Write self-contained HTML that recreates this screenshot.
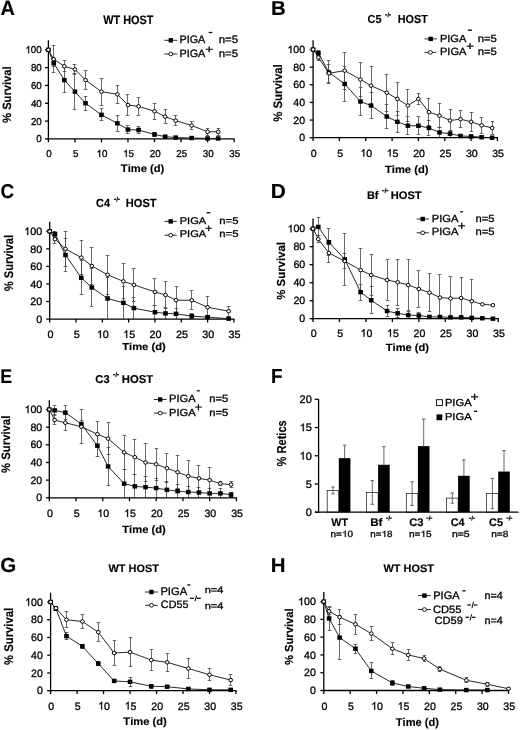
<!DOCTYPE html>
<html><head><meta charset="utf-8"><style>
html,body{margin:0;padding:0;background:#fff;width:520px;height:730px;overflow:hidden}
svg{display:block;font-family:"Liberation Sans",sans-serif;text-rendering:geometricPrecision;filter:blur(0.3px)}
</style></head><body>
<svg width="520" height="730" viewBox="0 0 520 730" font-family="Liberation Sans, sans-serif" style="font-kerning:none">
<rect width="520" height="730" fill="#fff"/>
<text transform="translate(0.50 15.30) scale(0.9711 1)" font-size="20.57" font-weight="bold" fill="#000" stroke="#000" stroke-width="0.15">A</text>
<text transform="translate(271.03 14.70) scale(1.0218 1)" font-size="20.06" font-weight="bold" fill="#000" stroke="#000" stroke-width="0.15">B</text>
<text transform="translate(0.43 198.21) scale(0.9447 1)" font-size="19.92" font-weight="bold" fill="#000" stroke="#000" stroke-width="0.15">C</text>
<text transform="translate(270.80 197.70) scale(1.0330 1)" font-size="20.20" font-weight="bold" fill="#000" stroke="#000" stroke-width="0.15">D</text>
<text transform="translate(0.31 382.80) scale(0.9017 1)" font-size="19.77" font-weight="bold" fill="#000" stroke="#000" stroke-width="0.15">E</text>
<text transform="translate(271.03 382.70) scale(0.9299 1)" font-size="20.35" font-weight="bold" fill="#000" stroke="#000" stroke-width="0.15">F</text>
<text transform="translate(0.36 572.00) scale(1.0128 1)" font-size="20.34" font-weight="bold" fill="#000" stroke="#000" stroke-width="0.15">G</text>
<text transform="translate(270.83 571.90) scale(1.0176 1)" font-size="20.06" font-weight="bold" fill="#000" stroke="#000" stroke-width="0.15">H</text>
<line x1="53.50" y1="45.50" x2="53.50" y2="72.50" stroke="#444" stroke-width="0.80"/>
<line x1="51.70" y1="45.50" x2="55.30" y2="45.50" stroke="#444" stroke-width="0.80"/>
<line x1="51.70" y1="72.50" x2="55.30" y2="72.50" stroke="#444" stroke-width="0.80"/>
<line x1="64.50" y1="60.50" x2="64.50" y2="71.50" stroke="#444" stroke-width="0.80"/>
<line x1="62.70" y1="60.50" x2="66.30" y2="60.50" stroke="#444" stroke-width="0.80"/>
<line x1="62.70" y1="71.50" x2="66.30" y2="71.50" stroke="#444" stroke-width="0.80"/>
<line x1="74.50" y1="64.50" x2="74.50" y2="74.50" stroke="#444" stroke-width="0.80"/>
<line x1="72.70" y1="64.50" x2="76.30" y2="64.50" stroke="#444" stroke-width="0.80"/>
<line x1="72.70" y1="74.50" x2="76.30" y2="74.50" stroke="#444" stroke-width="0.80"/>
<line x1="85.50" y1="70.50" x2="85.50" y2="89.50" stroke="#444" stroke-width="0.80"/>
<line x1="83.70" y1="70.50" x2="87.30" y2="70.50" stroke="#444" stroke-width="0.80"/>
<line x1="83.70" y1="89.50" x2="87.30" y2="89.50" stroke="#444" stroke-width="0.80"/>
<line x1="101.50" y1="78.50" x2="101.50" y2="105.50" stroke="#444" stroke-width="0.80"/>
<line x1="99.70" y1="78.50" x2="103.30" y2="78.50" stroke="#444" stroke-width="0.80"/>
<line x1="99.70" y1="105.50" x2="103.30" y2="105.50" stroke="#444" stroke-width="0.80"/>
<line x1="117.50" y1="85.50" x2="117.50" y2="103.50" stroke="#444" stroke-width="0.80"/>
<line x1="115.70" y1="85.50" x2="119.30" y2="85.50" stroke="#444" stroke-width="0.80"/>
<line x1="115.70" y1="103.50" x2="119.30" y2="103.50" stroke="#444" stroke-width="0.80"/>
<line x1="127.50" y1="94.50" x2="127.50" y2="115.50" stroke="#444" stroke-width="0.80"/>
<line x1="125.70" y1="94.50" x2="129.30" y2="94.50" stroke="#444" stroke-width="0.80"/>
<line x1="125.70" y1="115.50" x2="129.30" y2="115.50" stroke="#444" stroke-width="0.80"/>
<line x1="138.50" y1="97.50" x2="138.50" y2="115.50" stroke="#444" stroke-width="0.80"/>
<line x1="136.70" y1="97.50" x2="140.30" y2="97.50" stroke="#444" stroke-width="0.80"/>
<line x1="136.70" y1="115.50" x2="140.30" y2="115.50" stroke="#444" stroke-width="0.80"/>
<line x1="154.50" y1="103.50" x2="154.50" y2="119.50" stroke="#444" stroke-width="0.80"/>
<line x1="152.70" y1="103.50" x2="156.30" y2="103.50" stroke="#444" stroke-width="0.80"/>
<line x1="152.70" y1="119.50" x2="156.30" y2="119.50" stroke="#444" stroke-width="0.80"/>
<line x1="165.50" y1="109.50" x2="165.50" y2="123.50" stroke="#444" stroke-width="0.80"/>
<line x1="163.70" y1="109.50" x2="167.30" y2="109.50" stroke="#444" stroke-width="0.80"/>
<line x1="163.70" y1="123.50" x2="167.30" y2="123.50" stroke="#444" stroke-width="0.80"/>
<line x1="175.50" y1="115.50" x2="175.50" y2="125.50" stroke="#444" stroke-width="0.80"/>
<line x1="173.70" y1="115.50" x2="177.30" y2="115.50" stroke="#444" stroke-width="0.80"/>
<line x1="173.70" y1="125.50" x2="177.30" y2="125.50" stroke="#444" stroke-width="0.80"/>
<line x1="191.50" y1="121.50" x2="191.50" y2="129.50" stroke="#444" stroke-width="0.80"/>
<line x1="189.70" y1="121.50" x2="193.30" y2="121.50" stroke="#444" stroke-width="0.80"/>
<line x1="189.70" y1="129.50" x2="193.30" y2="129.50" stroke="#444" stroke-width="0.80"/>
<line x1="207.50" y1="128.50" x2="207.50" y2="135.50" stroke="#444" stroke-width="0.80"/>
<line x1="205.70" y1="128.50" x2="209.30" y2="128.50" stroke="#444" stroke-width="0.80"/>
<line x1="205.70" y1="135.50" x2="209.30" y2="135.50" stroke="#444" stroke-width="0.80"/>
<line x1="218.50" y1="128.50" x2="218.50" y2="135.50" stroke="#444" stroke-width="0.80"/>
<line x1="216.70" y1="128.50" x2="220.30" y2="128.50" stroke="#444" stroke-width="0.80"/>
<line x1="216.70" y1="135.50" x2="220.30" y2="135.50" stroke="#444" stroke-width="0.80"/>
<line x1="53.50" y1="60.50" x2="53.50" y2="66.50" stroke="#444" stroke-width="0.80"/>
<line x1="51.70" y1="60.50" x2="55.30" y2="60.50" stroke="#444" stroke-width="0.80"/>
<line x1="51.70" y1="66.50" x2="55.30" y2="66.50" stroke="#444" stroke-width="0.80"/>
<line x1="64.50" y1="67.50" x2="64.50" y2="92.50" stroke="#444" stroke-width="0.80"/>
<line x1="62.70" y1="67.50" x2="66.30" y2="67.50" stroke="#444" stroke-width="0.80"/>
<line x1="62.70" y1="92.50" x2="66.30" y2="92.50" stroke="#444" stroke-width="0.80"/>
<line x1="74.50" y1="73.50" x2="74.50" y2="109.50" stroke="#444" stroke-width="0.80"/>
<line x1="72.70" y1="73.50" x2="76.30" y2="73.50" stroke="#444" stroke-width="0.80"/>
<line x1="72.70" y1="109.50" x2="76.30" y2="109.50" stroke="#444" stroke-width="0.80"/>
<line x1="85.50" y1="96.50" x2="85.50" y2="110.50" stroke="#444" stroke-width="0.80"/>
<line x1="83.70" y1="96.50" x2="87.30" y2="96.50" stroke="#444" stroke-width="0.80"/>
<line x1="83.70" y1="110.50" x2="87.30" y2="110.50" stroke="#444" stroke-width="0.80"/>
<line x1="101.50" y1="108.50" x2="101.50" y2="120.50" stroke="#444" stroke-width="0.80"/>
<line x1="99.70" y1="108.50" x2="103.30" y2="108.50" stroke="#444" stroke-width="0.80"/>
<line x1="99.70" y1="120.50" x2="103.30" y2="120.50" stroke="#444" stroke-width="0.80"/>
<line x1="117.50" y1="115.50" x2="117.50" y2="131.50" stroke="#444" stroke-width="0.80"/>
<line x1="115.70" y1="115.50" x2="119.30" y2="115.50" stroke="#444" stroke-width="0.80"/>
<line x1="115.70" y1="131.50" x2="119.30" y2="131.50" stroke="#444" stroke-width="0.80"/>
<line x1="127.50" y1="125.50" x2="127.50" y2="133.50" stroke="#444" stroke-width="0.80"/>
<line x1="125.70" y1="125.50" x2="129.30" y2="125.50" stroke="#444" stroke-width="0.80"/>
<line x1="125.70" y1="133.50" x2="129.30" y2="133.50" stroke="#444" stroke-width="0.80"/>
<line x1="138.50" y1="126.50" x2="138.50" y2="133.50" stroke="#444" stroke-width="0.80"/>
<line x1="136.70" y1="126.50" x2="140.30" y2="126.50" stroke="#444" stroke-width="0.80"/>
<line x1="136.70" y1="133.50" x2="140.30" y2="133.50" stroke="#444" stroke-width="0.80"/>
<line x1="154.50" y1="132.50" x2="154.50" y2="136.50" stroke="#444" stroke-width="0.80"/>
<line x1="152.70" y1="132.50" x2="156.30" y2="132.50" stroke="#444" stroke-width="0.80"/>
<line x1="152.70" y1="136.50" x2="156.30" y2="136.50" stroke="#444" stroke-width="0.80"/>
<line x1="165.50" y1="135.50" x2="165.50" y2="137.50" stroke="#444" stroke-width="0.80"/>
<line x1="163.70" y1="135.50" x2="167.30" y2="135.50" stroke="#444" stroke-width="0.80"/>
<line x1="163.70" y1="137.50" x2="167.30" y2="137.50" stroke="#444" stroke-width="0.80"/>
<line x1="175.50" y1="136.50" x2="175.50" y2="138.50" stroke="#444" stroke-width="0.80"/>
<line x1="173.70" y1="136.50" x2="177.30" y2="136.50" stroke="#444" stroke-width="0.80"/>
<line x1="173.70" y1="138.50" x2="177.30" y2="138.50" stroke="#444" stroke-width="0.80"/>
<line x1="48.40" y1="40.20" x2="48.40" y2="139.50" stroke="#000" stroke-width="1.30"/>
<line x1="47.80" y1="138.90" x2="234.70" y2="138.90" stroke="#000" stroke-width="1.30"/>
<line x1="45.00" y1="138.90" x2="48.40" y2="138.90" stroke="#000" stroke-width="1.30"/>
<line x1="45.00" y1="121.08" x2="48.40" y2="121.08" stroke="#000" stroke-width="1.30"/>
<line x1="45.00" y1="103.26" x2="48.40" y2="103.26" stroke="#000" stroke-width="1.30"/>
<line x1="45.00" y1="85.44" x2="48.40" y2="85.44" stroke="#000" stroke-width="1.30"/>
<line x1="45.00" y1="67.62" x2="48.40" y2="67.62" stroke="#000" stroke-width="1.30"/>
<line x1="45.00" y1="49.80" x2="48.40" y2="49.80" stroke="#000" stroke-width="1.30"/>
<line x1="48.40" y1="138.90" x2="48.40" y2="142.30" stroke="#000" stroke-width="1.30"/>
<line x1="74.93" y1="138.90" x2="74.93" y2="142.30" stroke="#000" stroke-width="1.30"/>
<line x1="101.46" y1="138.90" x2="101.46" y2="142.30" stroke="#000" stroke-width="1.30"/>
<line x1="127.99" y1="138.90" x2="127.99" y2="142.30" stroke="#000" stroke-width="1.30"/>
<line x1="154.51" y1="138.90" x2="154.51" y2="142.30" stroke="#000" stroke-width="1.30"/>
<line x1="181.04" y1="138.90" x2="181.04" y2="142.30" stroke="#000" stroke-width="1.30"/>
<line x1="207.57" y1="138.90" x2="207.57" y2="142.30" stroke="#000" stroke-width="1.30"/>
<line x1="234.10" y1="138.90" x2="234.10" y2="142.30" stroke="#000" stroke-width="1.30"/>
<polyline points="48.40,49.80 53.71,63.16 64.32,80.09 74.93,91.68 85.54,103.26 101.46,114.84 117.37,123.31 127.99,129.54 138.60,129.99 154.51,134.44 165.13,136.67 175.74,137.56 191.65,138.01 207.57,138.45 218.18,138.45" fill="none" stroke="#111" stroke-width="0.9"/>
<polyline points="48.40,49.80 53.71,59.16 64.32,66.28 74.93,69.40 85.54,80.09 101.46,91.68 117.37,94.35 127.99,105.04 138.60,106.38 154.51,111.28 165.13,116.62 175.74,120.63 191.65,125.53 207.57,131.77 218.18,131.77" fill="none" stroke="#111" stroke-width="0.9"/>
<rect x="46.10" y="47.60" width="4.6" height="4.4" fill="#000"/>
<rect x="51.41" y="60.96" width="4.6" height="4.4" fill="#000"/>
<rect x="62.02" y="77.89" width="4.6" height="4.4" fill="#000"/>
<rect x="72.63" y="89.48" width="4.6" height="4.4" fill="#000"/>
<rect x="83.24" y="101.06" width="4.6" height="4.4" fill="#000"/>
<rect x="99.16" y="112.64" width="4.6" height="4.4" fill="#000"/>
<rect x="115.07" y="121.11" width="4.6" height="4.4" fill="#000"/>
<rect x="125.69" y="127.34" width="4.6" height="4.4" fill="#000"/>
<rect x="136.30" y="127.79" width="4.6" height="4.4" fill="#000"/>
<rect x="152.21" y="132.25" width="4.6" height="4.4" fill="#000"/>
<rect x="162.83" y="134.47" width="4.6" height="4.4" fill="#000"/>
<rect x="173.44" y="135.36" width="4.6" height="4.4" fill="#000"/>
<rect x="189.35" y="135.81" width="4.6" height="4.4" fill="#000"/>
<rect x="205.27" y="136.25" width="4.6" height="4.4" fill="#000"/>
<rect x="215.88" y="136.25" width="4.6" height="4.4" fill="#000"/>
<ellipse cx="48.40" cy="49.80" rx="1.85" ry="1.75" fill="#fff" stroke="#000" stroke-width="1.0"/>
<ellipse cx="53.71" cy="59.16" rx="1.85" ry="1.75" fill="#fff" stroke="#000" stroke-width="1.0"/>
<ellipse cx="64.32" cy="66.28" rx="1.85" ry="1.75" fill="#fff" stroke="#000" stroke-width="1.0"/>
<ellipse cx="74.93" cy="69.40" rx="1.85" ry="1.75" fill="#fff" stroke="#000" stroke-width="1.0"/>
<ellipse cx="85.54" cy="80.09" rx="1.85" ry="1.75" fill="#fff" stroke="#000" stroke-width="1.0"/>
<ellipse cx="101.46" cy="91.68" rx="1.85" ry="1.75" fill="#fff" stroke="#000" stroke-width="1.0"/>
<ellipse cx="117.37" cy="94.35" rx="1.85" ry="1.75" fill="#fff" stroke="#000" stroke-width="1.0"/>
<ellipse cx="127.99" cy="105.04" rx="1.85" ry="1.75" fill="#fff" stroke="#000" stroke-width="1.0"/>
<ellipse cx="138.60" cy="106.38" rx="1.85" ry="1.75" fill="#fff" stroke="#000" stroke-width="1.0"/>
<ellipse cx="154.51" cy="111.28" rx="1.85" ry="1.75" fill="#fff" stroke="#000" stroke-width="1.0"/>
<ellipse cx="165.13" cy="116.62" rx="1.85" ry="1.75" fill="#fff" stroke="#000" stroke-width="1.0"/>
<ellipse cx="175.74" cy="120.63" rx="1.85" ry="1.75" fill="#fff" stroke="#000" stroke-width="1.0"/>
<ellipse cx="191.65" cy="125.53" rx="1.85" ry="1.75" fill="#fff" stroke="#000" stroke-width="1.0"/>
<ellipse cx="207.57" cy="131.77" rx="1.85" ry="1.75" fill="#fff" stroke="#000" stroke-width="1.0"/>
<ellipse cx="218.18" cy="131.77" rx="1.85" ry="1.75" fill="#fff" stroke="#000" stroke-width="1.0"/>
<text transform="translate(36.33 142.34) scale(0.9800 1)" font-size="10.00" font-weight="normal" fill="#000" stroke="#000" stroke-width="0.30">0</text>
<text transform="translate(30.88 124.52) scale(0.9800 1)" font-size="10.00" font-weight="normal" fill="#000" stroke="#000" stroke-width="0.30">20</text>
<text transform="translate(30.88 106.70) scale(0.9800 1)" font-size="10.00" font-weight="normal" fill="#000" stroke="#000" stroke-width="0.30">40</text>
<text transform="translate(30.88 88.88) scale(0.9800 1)" font-size="10.00" font-weight="normal" fill="#000" stroke="#000" stroke-width="0.30">60</text>
<text transform="translate(30.88 71.06) scale(0.9800 1)" font-size="10.00" font-weight="normal" fill="#000" stroke="#000" stroke-width="0.30">80</text>
<g transform="translate(25.43 53.24) scale(0.9800 1)" font-size="10.00" font-weight="normal" fill="#000" stroke="#000" stroke-width="0.30">
<path vector-effect="non-scaling-stroke" transform="translate(0.000 0) scale(0.004883 -0.004883)" d="M763 0L583 0L583 1147C540 1106 483 1065 413 1024C343 983 280 952 223 931L223 1105C323 1152 410 1210 485 1277C560 1344 613 1407 644 1466L763 1466Z"/>
<text x="5.562">00</text>
</g>
<text transform="translate(46.37 157.00) scale(0.9800 1)" font-size="10.00" font-weight="normal" fill="#000" stroke="#000" stroke-width="0.30">0</text>
<text transform="translate(72.91 157.00) scale(0.9800 1)" font-size="10.00" font-weight="normal" fill="#000" stroke="#000" stroke-width="0.30">5</text>
<g transform="translate(96.53 157.00) scale(0.9800 1)" font-size="10.00" font-weight="normal" fill="#000" stroke="#000" stroke-width="0.30">
<path vector-effect="non-scaling-stroke" transform="translate(0.000 0) scale(0.004883 -0.004883)" d="M763 0L583 0L583 1147C540 1106 483 1065 413 1024C343 983 280 952 223 931L223 1105C323 1152 410 1210 485 1277C560 1344 613 1407 644 1466L763 1466Z"/>
<text x="5.562">0</text>
</g>
<g transform="translate(123.07 157.00) scale(0.9800 1)" font-size="10.00" font-weight="normal" fill="#000" stroke="#000" stroke-width="0.30">
<path vector-effect="non-scaling-stroke" transform="translate(0.000 0) scale(0.004883 -0.004883)" d="M763 0L583 0L583 1147C540 1106 483 1065 413 1024C343 983 280 952 223 931L223 1105C323 1152 410 1210 485 1277C560 1344 613 1407 644 1466L763 1466Z"/>
<text x="5.562">5</text>
</g>
<text transform="translate(149.71 157.00) scale(0.9800 1)" font-size="10.00" font-weight="normal" fill="#000" stroke="#000" stroke-width="0.30">20</text>
<text transform="translate(176.25 157.00) scale(0.9800 1)" font-size="10.00" font-weight="normal" fill="#000" stroke="#000" stroke-width="0.30">25</text>
<text transform="translate(202.83 157.00) scale(0.9800 1)" font-size="10.00" font-weight="normal" fill="#000" stroke="#000" stroke-width="0.30">30</text>
<text transform="translate(229.37 157.00) scale(0.9800 1)" font-size="10.00" font-weight="normal" fill="#000" stroke="#000" stroke-width="0.30">35</text>
<text transform="translate(103.19 23.60) scale(0.8941 1)" font-size="12.21" font-weight="bold" fill="#000" stroke="#000" stroke-width="0.15">WT HOST</text>
<text transform="translate(11.20 122.88) rotate(-90) scale(0.9384 1)" font-size="11.92" font-weight="bold" stroke="#000" stroke-width="0.15">% Survival</text>
<text transform="translate(120.87 171.80) scale(1.0396 1)" font-size="10.76" font-weight="bold" fill="#000" stroke="#000" stroke-width="0.15">Time (d)</text>
<line x1="164.40" y1="40.30" x2="177.20" y2="40.30" stroke="#111" stroke-width="0.90"/>
<rect x="168.60" y="38.10" width="4.4" height="4.4" fill="#000"/>
<line x1="164.40" y1="54.00" x2="177.20" y2="54.00" stroke="#111" stroke-width="0.90"/>
<ellipse cx="170.80" cy="54.00" rx="2.0" ry="1.8" fill="#fff" stroke="#000" stroke-width="0.9"/>
<text transform="translate(179.41 43.30) scale(1.0081 1)" font-size="10.76" font-weight="normal" fill="#000" stroke="#000" stroke-width="0.30">PIGA</text>
<text transform="translate(179.41 56.60) scale(1.0219 1)" font-size="10.61" font-weight="normal" fill="#000" stroke="#000" stroke-width="0.30">PIGA</text>
<line x1="208.70" y1="32.50" x2="212.30" y2="32.50" stroke="#000" stroke-width="1.30"/>
<text transform="translate(205.13 52.97) scale(1.2495 1)" font-size="11.04" font-weight="normal" fill="#000" stroke="#000" stroke-width="0.30">+</text>
<text transform="translate(218.64 43.30) scale(1.0656 1)" font-size="10.76" font-weight="normal" fill="#000" stroke="#000" stroke-width="0.30">n=5</text>
<text transform="translate(218.64 56.60) scale(1.0802 1)" font-size="10.61" font-weight="normal" fill="#000" stroke="#000" stroke-width="0.30">n=5</text>
<line x1="318.50" y1="53.50" x2="318.50" y2="60.50" stroke="#444" stroke-width="0.80"/>
<line x1="316.70" y1="53.50" x2="320.30" y2="53.50" stroke="#444" stroke-width="0.80"/>
<line x1="316.70" y1="60.50" x2="320.30" y2="60.50" stroke="#444" stroke-width="0.80"/>
<line x1="328.50" y1="64.50" x2="328.50" y2="82.50" stroke="#444" stroke-width="0.80"/>
<line x1="326.70" y1="64.50" x2="330.30" y2="64.50" stroke="#444" stroke-width="0.80"/>
<line x1="326.70" y1="82.50" x2="330.30" y2="82.50" stroke="#444" stroke-width="0.80"/>
<line x1="344.50" y1="52.50" x2="344.50" y2="89.50" stroke="#444" stroke-width="0.80"/>
<line x1="342.70" y1="52.50" x2="346.30" y2="52.50" stroke="#444" stroke-width="0.80"/>
<line x1="342.70" y1="89.50" x2="346.30" y2="89.50" stroke="#444" stroke-width="0.80"/>
<line x1="360.50" y1="62.50" x2="360.50" y2="96.50" stroke="#444" stroke-width="0.80"/>
<line x1="358.70" y1="62.50" x2="362.30" y2="62.50" stroke="#444" stroke-width="0.80"/>
<line x1="358.70" y1="96.50" x2="362.30" y2="96.50" stroke="#444" stroke-width="0.80"/>
<line x1="371.50" y1="66.50" x2="371.50" y2="105.50" stroke="#444" stroke-width="0.80"/>
<line x1="369.70" y1="66.50" x2="373.30" y2="66.50" stroke="#444" stroke-width="0.80"/>
<line x1="369.70" y1="105.50" x2="373.30" y2="105.50" stroke="#444" stroke-width="0.80"/>
<line x1="386.50" y1="74.50" x2="386.50" y2="111.50" stroke="#444" stroke-width="0.80"/>
<line x1="384.70" y1="74.50" x2="388.30" y2="74.50" stroke="#444" stroke-width="0.80"/>
<line x1="384.70" y1="111.50" x2="388.30" y2="111.50" stroke="#444" stroke-width="0.80"/>
<line x1="397.50" y1="82.50" x2="397.50" y2="115.50" stroke="#444" stroke-width="0.80"/>
<line x1="395.70" y1="82.50" x2="399.30" y2="82.50" stroke="#444" stroke-width="0.80"/>
<line x1="395.70" y1="115.50" x2="399.30" y2="115.50" stroke="#444" stroke-width="0.80"/>
<line x1="407.50" y1="89.50" x2="407.50" y2="121.50" stroke="#444" stroke-width="0.80"/>
<line x1="405.70" y1="89.50" x2="409.30" y2="89.50" stroke="#444" stroke-width="0.80"/>
<line x1="405.70" y1="121.50" x2="409.30" y2="121.50" stroke="#444" stroke-width="0.80"/>
<line x1="418.50" y1="93.50" x2="418.50" y2="104.50" stroke="#444" stroke-width="0.80"/>
<line x1="416.70" y1="93.50" x2="420.30" y2="93.50" stroke="#444" stroke-width="0.80"/>
<line x1="416.70" y1="104.50" x2="420.30" y2="104.50" stroke="#444" stroke-width="0.80"/>
<line x1="428.50" y1="98.50" x2="428.50" y2="125.50" stroke="#444" stroke-width="0.80"/>
<line x1="426.70" y1="98.50" x2="430.30" y2="98.50" stroke="#444" stroke-width="0.80"/>
<line x1="426.70" y1="125.50" x2="430.30" y2="125.50" stroke="#444" stroke-width="0.80"/>
<line x1="439.50" y1="103.50" x2="439.50" y2="127.50" stroke="#444" stroke-width="0.80"/>
<line x1="437.70" y1="103.50" x2="441.30" y2="103.50" stroke="#444" stroke-width="0.80"/>
<line x1="437.70" y1="127.50" x2="441.30" y2="127.50" stroke="#444" stroke-width="0.80"/>
<line x1="450.50" y1="109.50" x2="450.50" y2="131.50" stroke="#444" stroke-width="0.80"/>
<line x1="448.70" y1="109.50" x2="452.30" y2="109.50" stroke="#444" stroke-width="0.80"/>
<line x1="448.70" y1="131.50" x2="452.30" y2="131.50" stroke="#444" stroke-width="0.80"/>
<line x1="460.50" y1="110.50" x2="460.50" y2="127.50" stroke="#444" stroke-width="0.80"/>
<line x1="458.70" y1="110.50" x2="462.30" y2="110.50" stroke="#444" stroke-width="0.80"/>
<line x1="458.70" y1="127.50" x2="462.30" y2="127.50" stroke="#444" stroke-width="0.80"/>
<line x1="471.50" y1="112.50" x2="471.50" y2="131.50" stroke="#444" stroke-width="0.80"/>
<line x1="469.70" y1="112.50" x2="473.30" y2="112.50" stroke="#444" stroke-width="0.80"/>
<line x1="469.70" y1="131.50" x2="473.30" y2="131.50" stroke="#444" stroke-width="0.80"/>
<line x1="481.50" y1="117.50" x2="481.50" y2="133.50" stroke="#444" stroke-width="0.80"/>
<line x1="479.70" y1="117.50" x2="483.30" y2="117.50" stroke="#444" stroke-width="0.80"/>
<line x1="479.70" y1="133.50" x2="483.30" y2="133.50" stroke="#444" stroke-width="0.80"/>
<line x1="492.50" y1="121.50" x2="492.50" y2="134.50" stroke="#444" stroke-width="0.80"/>
<line x1="490.70" y1="121.50" x2="494.30" y2="121.50" stroke="#444" stroke-width="0.80"/>
<line x1="490.70" y1="134.50" x2="494.30" y2="134.50" stroke="#444" stroke-width="0.80"/>
<line x1="318.50" y1="50.50" x2="318.50" y2="55.50" stroke="#444" stroke-width="0.80"/>
<line x1="316.70" y1="50.50" x2="320.30" y2="50.50" stroke="#444" stroke-width="0.80"/>
<line x1="316.70" y1="55.50" x2="320.30" y2="55.50" stroke="#444" stroke-width="0.80"/>
<line x1="328.50" y1="60.50" x2="328.50" y2="83.50" stroke="#444" stroke-width="0.80"/>
<line x1="326.70" y1="60.50" x2="330.30" y2="60.50" stroke="#444" stroke-width="0.80"/>
<line x1="326.70" y1="83.50" x2="330.30" y2="83.50" stroke="#444" stroke-width="0.80"/>
<line x1="344.50" y1="66.50" x2="344.50" y2="101.50" stroke="#444" stroke-width="0.80"/>
<line x1="342.70" y1="66.50" x2="346.30" y2="66.50" stroke="#444" stroke-width="0.80"/>
<line x1="342.70" y1="101.50" x2="346.30" y2="101.50" stroke="#444" stroke-width="0.80"/>
<line x1="360.50" y1="87.50" x2="360.50" y2="115.50" stroke="#444" stroke-width="0.80"/>
<line x1="358.70" y1="87.50" x2="362.30" y2="87.50" stroke="#444" stroke-width="0.80"/>
<line x1="358.70" y1="115.50" x2="362.30" y2="115.50" stroke="#444" stroke-width="0.80"/>
<line x1="371.50" y1="92.50" x2="371.50" y2="118.50" stroke="#444" stroke-width="0.80"/>
<line x1="369.70" y1="92.50" x2="373.30" y2="92.50" stroke="#444" stroke-width="0.80"/>
<line x1="369.70" y1="118.50" x2="373.30" y2="118.50" stroke="#444" stroke-width="0.80"/>
<line x1="386.50" y1="104.50" x2="386.50" y2="128.50" stroke="#444" stroke-width="0.80"/>
<line x1="384.70" y1="104.50" x2="388.30" y2="104.50" stroke="#444" stroke-width="0.80"/>
<line x1="384.70" y1="128.50" x2="388.30" y2="128.50" stroke="#444" stroke-width="0.80"/>
<line x1="397.50" y1="111.50" x2="397.50" y2="132.50" stroke="#444" stroke-width="0.80"/>
<line x1="395.70" y1="111.50" x2="399.30" y2="111.50" stroke="#444" stroke-width="0.80"/>
<line x1="395.70" y1="132.50" x2="399.30" y2="132.50" stroke="#444" stroke-width="0.80"/>
<line x1="407.50" y1="116.50" x2="407.50" y2="134.50" stroke="#444" stroke-width="0.80"/>
<line x1="405.70" y1="116.50" x2="409.30" y2="116.50" stroke="#444" stroke-width="0.80"/>
<line x1="405.70" y1="134.50" x2="409.30" y2="134.50" stroke="#444" stroke-width="0.80"/>
<line x1="418.50" y1="116.50" x2="418.50" y2="134.50" stroke="#444" stroke-width="0.80"/>
<line x1="416.70" y1="116.50" x2="420.30" y2="116.50" stroke="#444" stroke-width="0.80"/>
<line x1="416.70" y1="134.50" x2="420.30" y2="134.50" stroke="#444" stroke-width="0.80"/>
<line x1="428.50" y1="120.50" x2="428.50" y2="135.50" stroke="#444" stroke-width="0.80"/>
<line x1="426.70" y1="120.50" x2="430.30" y2="120.50" stroke="#444" stroke-width="0.80"/>
<line x1="426.70" y1="135.50" x2="430.30" y2="135.50" stroke="#444" stroke-width="0.80"/>
<line x1="439.50" y1="127.50" x2="439.50" y2="137.70" stroke="#444" stroke-width="0.80"/>
<line x1="437.70" y1="127.50" x2="441.30" y2="127.50" stroke="#444" stroke-width="0.80"/>
<line x1="450.50" y1="130.50" x2="450.50" y2="137.50" stroke="#444" stroke-width="0.80"/>
<line x1="448.70" y1="130.50" x2="452.30" y2="130.50" stroke="#444" stroke-width="0.80"/>
<line x1="448.70" y1="137.50" x2="452.30" y2="137.50" stroke="#444" stroke-width="0.80"/>
<line x1="460.50" y1="134.50" x2="460.50" y2="137.50" stroke="#444" stroke-width="0.80"/>
<line x1="458.70" y1="134.50" x2="462.30" y2="134.50" stroke="#444" stroke-width="0.80"/>
<line x1="458.70" y1="137.50" x2="462.30" y2="137.50" stroke="#444" stroke-width="0.80"/>
<line x1="471.50" y1="135.50" x2="471.50" y2="137.50" stroke="#444" stroke-width="0.80"/>
<line x1="469.70" y1="135.50" x2="473.30" y2="135.50" stroke="#444" stroke-width="0.80"/>
<line x1="469.70" y1="137.50" x2="473.30" y2="137.50" stroke="#444" stroke-width="0.80"/>
<line x1="481.50" y1="136.50" x2="481.50" y2="137.70" stroke="#444" stroke-width="0.80"/>
<line x1="479.70" y1="136.50" x2="483.30" y2="136.50" stroke="#444" stroke-width="0.80"/>
<line x1="313.10" y1="40.20" x2="313.10" y2="138.30" stroke="#000" stroke-width="1.30"/>
<line x1="312.50" y1="137.70" x2="498.00" y2="137.70" stroke="#000" stroke-width="1.30"/>
<line x1="309.70" y1="137.70" x2="313.10" y2="137.70" stroke="#000" stroke-width="1.30"/>
<line x1="309.70" y1="120.06" x2="313.10" y2="120.06" stroke="#000" stroke-width="1.30"/>
<line x1="309.70" y1="102.42" x2="313.10" y2="102.42" stroke="#000" stroke-width="1.30"/>
<line x1="309.70" y1="84.78" x2="313.10" y2="84.78" stroke="#000" stroke-width="1.30"/>
<line x1="309.70" y1="67.14" x2="313.10" y2="67.14" stroke="#000" stroke-width="1.30"/>
<line x1="309.70" y1="49.50" x2="313.10" y2="49.50" stroke="#000" stroke-width="1.30"/>
<line x1="313.10" y1="137.70" x2="313.10" y2="141.10" stroke="#000" stroke-width="1.30"/>
<line x1="339.43" y1="137.70" x2="339.43" y2="141.10" stroke="#000" stroke-width="1.30"/>
<line x1="365.76" y1="137.70" x2="365.76" y2="141.10" stroke="#000" stroke-width="1.30"/>
<line x1="392.09" y1="137.70" x2="392.09" y2="141.10" stroke="#000" stroke-width="1.30"/>
<line x1="418.41" y1="137.70" x2="418.41" y2="141.10" stroke="#000" stroke-width="1.30"/>
<line x1="444.74" y1="137.70" x2="444.74" y2="141.10" stroke="#000" stroke-width="1.30"/>
<line x1="471.07" y1="137.70" x2="471.07" y2="141.10" stroke="#000" stroke-width="1.30"/>
<line x1="497.40" y1="137.70" x2="497.40" y2="141.10" stroke="#000" stroke-width="1.30"/>
<polyline points="313.10,49.50 318.37,53.03 328.90,72.43 344.69,83.90 360.49,101.54 371.02,105.51 386.82,116.53 397.35,121.82 407.88,125.70 418.41,125.70 428.95,128.00 439.48,132.41 450.01,133.73 460.54,135.94 471.07,136.38 481.60,137.26 492.13,137.70" fill="none" stroke="#111" stroke-width="0.9"/>
<polyline points="313.10,49.50 318.37,57.44 328.90,73.31 344.69,70.67 360.49,79.49 371.02,85.66 386.82,92.72 397.35,98.89 407.88,105.51 418.41,98.89 428.95,112.12 439.48,115.65 450.01,120.50 460.54,119.18 471.07,121.82 481.60,125.35 492.13,128.00" fill="none" stroke="#111" stroke-width="0.9"/>
<rect x="310.80" y="47.30" width="4.6" height="4.4" fill="#000"/>
<rect x="316.07" y="50.83" width="4.6" height="4.4" fill="#000"/>
<rect x="326.60" y="70.23" width="4.6" height="4.4" fill="#000"/>
<rect x="342.39" y="81.70" width="4.6" height="4.4" fill="#000"/>
<rect x="358.19" y="99.34" width="4.6" height="4.4" fill="#000"/>
<rect x="368.72" y="103.31" width="4.6" height="4.4" fill="#000"/>
<rect x="384.52" y="114.33" width="4.6" height="4.4" fill="#000"/>
<rect x="395.05" y="119.62" width="4.6" height="4.4" fill="#000"/>
<rect x="405.58" y="123.50" width="4.6" height="4.4" fill="#000"/>
<rect x="416.11" y="123.50" width="4.6" height="4.4" fill="#000"/>
<rect x="426.65" y="125.80" width="4.6" height="4.4" fill="#000"/>
<rect x="437.18" y="130.21" width="4.6" height="4.4" fill="#000"/>
<rect x="447.71" y="131.53" width="4.6" height="4.4" fill="#000"/>
<rect x="458.24" y="133.74" width="4.6" height="4.4" fill="#000"/>
<rect x="468.77" y="134.18" width="4.6" height="4.4" fill="#000"/>
<rect x="479.30" y="135.06" width="4.6" height="4.4" fill="#000"/>
<rect x="489.83" y="135.50" width="4.6" height="4.4" fill="#000"/>
<ellipse cx="313.10" cy="49.50" rx="1.85" ry="1.75" fill="#fff" stroke="#000" stroke-width="1.0"/>
<ellipse cx="318.37" cy="57.44" rx="1.85" ry="1.75" fill="#fff" stroke="#000" stroke-width="1.0"/>
<ellipse cx="328.90" cy="73.31" rx="1.85" ry="1.75" fill="#fff" stroke="#000" stroke-width="1.0"/>
<ellipse cx="344.69" cy="70.67" rx="1.85" ry="1.75" fill="#fff" stroke="#000" stroke-width="1.0"/>
<ellipse cx="360.49" cy="79.49" rx="1.85" ry="1.75" fill="#fff" stroke="#000" stroke-width="1.0"/>
<ellipse cx="371.02" cy="85.66" rx="1.85" ry="1.75" fill="#fff" stroke="#000" stroke-width="1.0"/>
<ellipse cx="386.82" cy="92.72" rx="1.85" ry="1.75" fill="#fff" stroke="#000" stroke-width="1.0"/>
<ellipse cx="397.35" cy="98.89" rx="1.85" ry="1.75" fill="#fff" stroke="#000" stroke-width="1.0"/>
<ellipse cx="407.88" cy="105.51" rx="1.85" ry="1.75" fill="#fff" stroke="#000" stroke-width="1.0"/>
<ellipse cx="418.41" cy="98.89" rx="1.85" ry="1.75" fill="#fff" stroke="#000" stroke-width="1.0"/>
<ellipse cx="428.95" cy="112.12" rx="1.85" ry="1.75" fill="#fff" stroke="#000" stroke-width="1.0"/>
<ellipse cx="439.48" cy="115.65" rx="1.85" ry="1.75" fill="#fff" stroke="#000" stroke-width="1.0"/>
<ellipse cx="450.01" cy="120.50" rx="1.85" ry="1.75" fill="#fff" stroke="#000" stroke-width="1.0"/>
<ellipse cx="460.54" cy="119.18" rx="1.85" ry="1.75" fill="#fff" stroke="#000" stroke-width="1.0"/>
<ellipse cx="471.07" cy="121.82" rx="1.85" ry="1.75" fill="#fff" stroke="#000" stroke-width="1.0"/>
<ellipse cx="481.60" cy="125.35" rx="1.85" ry="1.75" fill="#fff" stroke="#000" stroke-width="1.0"/>
<ellipse cx="492.13" cy="128.00" rx="1.85" ry="1.75" fill="#fff" stroke="#000" stroke-width="1.0"/>
<text transform="translate(299.21 141.28) scale(1.0200 1)" font-size="10.40" font-weight="normal" fill="#000" stroke="#000" stroke-width="0.30">0</text>
<text transform="translate(293.32 123.64) scale(1.0200 1)" font-size="10.40" font-weight="normal" fill="#000" stroke="#000" stroke-width="0.30">20</text>
<text transform="translate(293.32 106.00) scale(1.0200 1)" font-size="10.40" font-weight="normal" fill="#000" stroke="#000" stroke-width="0.30">40</text>
<text transform="translate(293.32 88.36) scale(1.0200 1)" font-size="10.40" font-weight="normal" fill="#000" stroke="#000" stroke-width="0.30">60</text>
<text transform="translate(293.32 70.72) scale(1.0200 1)" font-size="10.40" font-weight="normal" fill="#000" stroke="#000" stroke-width="0.30">80</text>
<g transform="translate(287.42 53.08) scale(1.0200 1)" font-size="10.40" font-weight="normal" fill="#000" stroke="#000" stroke-width="0.30">
<path vector-effect="non-scaling-stroke" transform="translate(0.000 0) scale(0.005078 -0.005078)" d="M763 0L583 0L583 1147C540 1106 483 1065 413 1024C343 983 280 952 223 931L223 1105C323 1152 410 1210 485 1277C560 1344 613 1407 644 1466L763 1466Z"/>
<text x="5.784">00</text>
</g>
<text transform="translate(310.85 156.50) scale(1.0200 1)" font-size="10.40" font-weight="normal" fill="#000" stroke="#000" stroke-width="0.30">0</text>
<text transform="translate(337.19 156.50) scale(1.0200 1)" font-size="10.40" font-weight="normal" fill="#000" stroke="#000" stroke-width="0.30">5</text>
<g transform="translate(360.36 156.50) scale(1.0200 1)" font-size="10.40" font-weight="normal" fill="#000" stroke="#000" stroke-width="0.30">
<path vector-effect="non-scaling-stroke" transform="translate(0.000 0) scale(0.005078 -0.005078)" d="M763 0L583 0L583 1147C540 1106 483 1065 413 1024C343 983 280 952 223 931L223 1105C323 1152 410 1210 485 1277C560 1344 613 1407 644 1466L763 1466Z"/>
<text x="5.784">0</text>
</g>
<g transform="translate(386.70 156.50) scale(1.0200 1)" font-size="10.40" font-weight="normal" fill="#000" stroke="#000" stroke-width="0.30">
<path vector-effect="non-scaling-stroke" transform="translate(0.000 0) scale(0.005078 -0.005078)" d="M763 0L583 0L583 1147C540 1106 483 1065 413 1024C343 983 280 952 223 931L223 1105C323 1152 410 1210 485 1277C560 1344 613 1407 644 1466L763 1466Z"/>
<text x="5.784">5</text>
</g>
<text transform="translate(413.16 156.50) scale(1.0200 1)" font-size="10.40" font-weight="normal" fill="#000" stroke="#000" stroke-width="0.30">20</text>
<text transform="translate(439.50 156.50) scale(1.0200 1)" font-size="10.40" font-weight="normal" fill="#000" stroke="#000" stroke-width="0.30">25</text>
<text transform="translate(465.88 156.50) scale(1.0200 1)" font-size="10.40" font-weight="normal" fill="#000" stroke="#000" stroke-width="0.30">30</text>
<text transform="translate(492.22 156.50) scale(1.0200 1)" font-size="10.40" font-weight="normal" fill="#000" stroke="#000" stroke-width="0.30">35</text>
<text transform="translate(367.55 22.50) scale(0.9386 1)" font-size="11.63" font-weight="bold" fill="#000" stroke="#000" stroke-width="0.15">C5</text>
<line x1="385.00" y1="14.90" x2="387.20" y2="14.90" stroke="#000" stroke-width="1.20"/>
<line x1="388.78" y1="12.45" x2="387.81" y2="17.35" stroke="#000" stroke-width="0.96"/>
<line x1="388.90" y1="14.90" x2="391.10" y2="14.90" stroke="#000" stroke-width="1.20"/>
<text transform="translate(397.78 22.50) scale(0.9300 1)" font-size="11.63" font-weight="bold" fill="#000" stroke="#000" stroke-width="0.15">HOST</text>
<text transform="translate(281.50 121.78) rotate(-90) scale(0.9216 1)" font-size="12.35" font-weight="bold" stroke="#000" stroke-width="0.15">% Survival</text>
<text transform="translate(384.97 172.80) scale(1.0538 1)" font-size="10.61" font-weight="bold" fill="#000" stroke="#000" stroke-width="0.15">Time (d)</text>
<line x1="424.60" y1="38.90" x2="436.80" y2="38.90" stroke="#111" stroke-width="0.90"/>
<rect x="428.50" y="36.70" width="4.4" height="4.4" fill="#000"/>
<line x1="424.60" y1="52.40" x2="436.20" y2="52.40" stroke="#111" stroke-width="0.90"/>
<ellipse cx="430.40" cy="52.40" rx="2.0" ry="1.8" fill="#fff" stroke="#000" stroke-width="0.9"/>
<text transform="translate(439.89 41.70) scale(1.0759 1)" font-size="10.32" font-weight="normal" fill="#000" stroke="#000" stroke-width="0.30">PIGA</text>
<text transform="translate(439.89 55.20) scale(1.0610 1)" font-size="10.47" font-weight="normal" fill="#000" stroke="#000" stroke-width="0.30">PIGA</text>
<line x1="467.80" y1="30.20" x2="472.00" y2="30.20" stroke="#000" stroke-width="1.30"/>
<text transform="translate(466.16 50.04) scale(1.1112 1)" font-size="11.85" font-weight="normal" fill="#000" stroke="#000" stroke-width="0.30">+</text>
<text transform="translate(477.65 41.70) scale(1.0985 1)" font-size="10.32" font-weight="normal" fill="#000" stroke="#000" stroke-width="0.30">n=5</text>
<text transform="translate(477.65 55.20) scale(1.0832 1)" font-size="10.47" font-weight="normal" fill="#000" stroke="#000" stroke-width="0.30">n=5</text>
<line x1="54.50" y1="234.50" x2="54.50" y2="243.50" stroke="#444" stroke-width="0.80"/>
<line x1="52.70" y1="234.50" x2="56.30" y2="234.50" stroke="#444" stroke-width="0.80"/>
<line x1="52.70" y1="243.50" x2="56.30" y2="243.50" stroke="#444" stroke-width="0.80"/>
<line x1="65.50" y1="231.50" x2="65.50" y2="266.50" stroke="#444" stroke-width="0.80"/>
<line x1="63.70" y1="231.50" x2="67.30" y2="231.50" stroke="#444" stroke-width="0.80"/>
<line x1="63.70" y1="266.50" x2="67.30" y2="266.50" stroke="#444" stroke-width="0.80"/>
<line x1="81.50" y1="240.50" x2="81.50" y2="274.50" stroke="#444" stroke-width="0.80"/>
<line x1="79.70" y1="240.50" x2="83.30" y2="240.50" stroke="#444" stroke-width="0.80"/>
<line x1="79.70" y1="274.50" x2="83.30" y2="274.50" stroke="#444" stroke-width="0.80"/>
<line x1="91.50" y1="247.50" x2="91.50" y2="284.50" stroke="#444" stroke-width="0.80"/>
<line x1="89.70" y1="247.50" x2="93.30" y2="247.50" stroke="#444" stroke-width="0.80"/>
<line x1="89.70" y1="284.50" x2="93.30" y2="284.50" stroke="#444" stroke-width="0.80"/>
<line x1="107.50" y1="255.50" x2="107.50" y2="294.50" stroke="#444" stroke-width="0.80"/>
<line x1="105.70" y1="255.50" x2="109.30" y2="255.50" stroke="#444" stroke-width="0.80"/>
<line x1="105.70" y1="294.50" x2="109.30" y2="294.50" stroke="#444" stroke-width="0.80"/>
<line x1="123.50" y1="263.50" x2="123.50" y2="298.50" stroke="#444" stroke-width="0.80"/>
<line x1="121.70" y1="263.50" x2="125.30" y2="263.50" stroke="#444" stroke-width="0.80"/>
<line x1="121.70" y1="298.50" x2="125.30" y2="298.50" stroke="#444" stroke-width="0.80"/>
<line x1="133.50" y1="268.50" x2="133.50" y2="301.50" stroke="#444" stroke-width="0.80"/>
<line x1="131.70" y1="268.50" x2="135.30" y2="268.50" stroke="#444" stroke-width="0.80"/>
<line x1="131.70" y1="301.50" x2="135.30" y2="301.50" stroke="#444" stroke-width="0.80"/>
<line x1="154.50" y1="278.50" x2="154.50" y2="305.50" stroke="#444" stroke-width="0.80"/>
<line x1="152.70" y1="278.50" x2="156.30" y2="278.50" stroke="#444" stroke-width="0.80"/>
<line x1="152.70" y1="305.50" x2="156.30" y2="305.50" stroke="#444" stroke-width="0.80"/>
<line x1="165.50" y1="281.50" x2="165.50" y2="308.50" stroke="#444" stroke-width="0.80"/>
<line x1="163.70" y1="281.50" x2="167.30" y2="281.50" stroke="#444" stroke-width="0.80"/>
<line x1="163.70" y1="308.50" x2="167.30" y2="308.50" stroke="#444" stroke-width="0.80"/>
<line x1="176.50" y1="286.50" x2="176.50" y2="314.50" stroke="#444" stroke-width="0.80"/>
<line x1="174.70" y1="286.50" x2="178.30" y2="286.50" stroke="#444" stroke-width="0.80"/>
<line x1="174.70" y1="314.50" x2="178.30" y2="314.50" stroke="#444" stroke-width="0.80"/>
<line x1="191.50" y1="290.50" x2="191.50" y2="309.50" stroke="#444" stroke-width="0.80"/>
<line x1="189.70" y1="290.50" x2="193.30" y2="290.50" stroke="#444" stroke-width="0.80"/>
<line x1="189.70" y1="309.50" x2="193.30" y2="309.50" stroke="#444" stroke-width="0.80"/>
<line x1="207.50" y1="296.50" x2="207.50" y2="317.50" stroke="#444" stroke-width="0.80"/>
<line x1="205.70" y1="296.50" x2="209.30" y2="296.50" stroke="#444" stroke-width="0.80"/>
<line x1="205.70" y1="317.50" x2="209.30" y2="317.50" stroke="#444" stroke-width="0.80"/>
<line x1="228.50" y1="306.50" x2="228.50" y2="316.50" stroke="#444" stroke-width="0.80"/>
<line x1="226.70" y1="306.50" x2="230.30" y2="306.50" stroke="#444" stroke-width="0.80"/>
<line x1="226.70" y1="316.50" x2="230.30" y2="316.50" stroke="#444" stroke-width="0.80"/>
<line x1="54.50" y1="231.50" x2="54.50" y2="236.50" stroke="#444" stroke-width="0.80"/>
<line x1="52.70" y1="231.50" x2="56.30" y2="231.50" stroke="#444" stroke-width="0.80"/>
<line x1="52.70" y1="236.50" x2="56.30" y2="236.50" stroke="#444" stroke-width="0.80"/>
<line x1="65.50" y1="238.50" x2="65.50" y2="271.50" stroke="#444" stroke-width="0.80"/>
<line x1="63.70" y1="238.50" x2="67.30" y2="238.50" stroke="#444" stroke-width="0.80"/>
<line x1="63.70" y1="271.50" x2="67.30" y2="271.50" stroke="#444" stroke-width="0.80"/>
<line x1="81.50" y1="260.50" x2="81.50" y2="294.50" stroke="#444" stroke-width="0.80"/>
<line x1="79.70" y1="260.50" x2="83.30" y2="260.50" stroke="#444" stroke-width="0.80"/>
<line x1="79.70" y1="294.50" x2="83.30" y2="294.50" stroke="#444" stroke-width="0.80"/>
<line x1="91.50" y1="268.50" x2="91.50" y2="306.50" stroke="#444" stroke-width="0.80"/>
<line x1="89.70" y1="268.50" x2="93.30" y2="268.50" stroke="#444" stroke-width="0.80"/>
<line x1="89.70" y1="306.50" x2="93.30" y2="306.50" stroke="#444" stroke-width="0.80"/>
<line x1="107.50" y1="277.50" x2="107.50" y2="319.10" stroke="#444" stroke-width="0.80"/>
<line x1="105.70" y1="277.50" x2="109.30" y2="277.50" stroke="#444" stroke-width="0.80"/>
<line x1="123.50" y1="286.50" x2="123.50" y2="319.10" stroke="#444" stroke-width="0.80"/>
<line x1="121.70" y1="286.50" x2="125.30" y2="286.50" stroke="#444" stroke-width="0.80"/>
<line x1="133.50" y1="297.50" x2="133.50" y2="319.10" stroke="#444" stroke-width="0.80"/>
<line x1="131.70" y1="297.50" x2="135.30" y2="297.50" stroke="#444" stroke-width="0.80"/>
<line x1="154.50" y1="305.50" x2="154.50" y2="319.10" stroke="#444" stroke-width="0.80"/>
<line x1="152.70" y1="305.50" x2="156.30" y2="305.50" stroke="#444" stroke-width="0.80"/>
<line x1="165.50" y1="307.50" x2="165.50" y2="319.10" stroke="#444" stroke-width="0.80"/>
<line x1="163.70" y1="307.50" x2="167.30" y2="307.50" stroke="#444" stroke-width="0.80"/>
<line x1="176.50" y1="308.50" x2="176.50" y2="319.10" stroke="#444" stroke-width="0.80"/>
<line x1="174.70" y1="308.50" x2="178.30" y2="308.50" stroke="#444" stroke-width="0.80"/>
<line x1="191.50" y1="313.50" x2="191.50" y2="318.50" stroke="#444" stroke-width="0.80"/>
<line x1="189.70" y1="313.50" x2="193.30" y2="313.50" stroke="#444" stroke-width="0.80"/>
<line x1="189.70" y1="318.50" x2="193.30" y2="318.50" stroke="#444" stroke-width="0.80"/>
<line x1="207.50" y1="315.50" x2="207.50" y2="318.50" stroke="#444" stroke-width="0.80"/>
<line x1="205.70" y1="315.50" x2="209.30" y2="315.50" stroke="#444" stroke-width="0.80"/>
<line x1="205.70" y1="318.50" x2="209.30" y2="318.50" stroke="#444" stroke-width="0.80"/>
<line x1="228.50" y1="318.50" x2="228.50" y2="319.10" stroke="#444" stroke-width="0.80"/>
<line x1="226.70" y1="318.50" x2="230.30" y2="318.50" stroke="#444" stroke-width="0.80"/>
<line x1="49.70" y1="221.80" x2="49.70" y2="319.70" stroke="#000" stroke-width="1.30"/>
<line x1="49.10" y1="319.10" x2="234.50" y2="319.10" stroke="#000" stroke-width="1.30"/>
<line x1="46.30" y1="319.10" x2="49.70" y2="319.10" stroke="#000" stroke-width="1.30"/>
<line x1="46.30" y1="301.54" x2="49.70" y2="301.54" stroke="#000" stroke-width="1.30"/>
<line x1="46.30" y1="283.98" x2="49.70" y2="283.98" stroke="#000" stroke-width="1.30"/>
<line x1="46.30" y1="266.42" x2="49.70" y2="266.42" stroke="#000" stroke-width="1.30"/>
<line x1="46.30" y1="248.86" x2="49.70" y2="248.86" stroke="#000" stroke-width="1.30"/>
<line x1="46.30" y1="231.30" x2="49.70" y2="231.30" stroke="#000" stroke-width="1.30"/>
<line x1="49.70" y1="319.10" x2="49.70" y2="322.50" stroke="#000" stroke-width="1.30"/>
<line x1="76.01" y1="319.10" x2="76.01" y2="322.50" stroke="#000" stroke-width="1.30"/>
<line x1="102.33" y1="319.10" x2="102.33" y2="322.50" stroke="#000" stroke-width="1.30"/>
<line x1="128.64" y1="319.10" x2="128.64" y2="322.50" stroke="#000" stroke-width="1.30"/>
<line x1="154.96" y1="319.10" x2="154.96" y2="322.50" stroke="#000" stroke-width="1.30"/>
<line x1="181.27" y1="319.10" x2="181.27" y2="322.50" stroke="#000" stroke-width="1.30"/>
<line x1="207.59" y1="319.10" x2="207.59" y2="322.50" stroke="#000" stroke-width="1.30"/>
<line x1="233.90" y1="319.10" x2="233.90" y2="322.50" stroke="#000" stroke-width="1.30"/>
<polyline points="49.70,231.30 54.96,233.93 65.49,255.01 81.28,277.83 91.80,287.49 107.59,298.47 123.38,302.86 133.91,308.12 154.96,312.25 165.48,313.39 176.01,313.83 191.80,316.11 207.59,317.17 228.64,318.66" fill="none" stroke="#111" stroke-width="0.9"/>
<polyline points="49.70,231.30 54.96,239.20 65.49,248.86 81.28,257.64 91.80,265.98 107.59,274.76 123.38,281.35 133.91,284.86 154.96,291.88 165.48,294.96 176.01,300.22 191.80,300.22 207.59,307.25 228.64,311.20" fill="none" stroke="#111" stroke-width="0.9"/>
<rect x="47.40" y="229.10" width="4.6" height="4.4" fill="#000"/>
<rect x="52.66" y="231.73" width="4.6" height="4.4" fill="#000"/>
<rect x="63.19" y="252.81" width="4.6" height="4.4" fill="#000"/>
<rect x="78.98" y="275.63" width="4.6" height="4.4" fill="#000"/>
<rect x="89.50" y="285.29" width="4.6" height="4.4" fill="#000"/>
<rect x="105.29" y="296.27" width="4.6" height="4.4" fill="#000"/>
<rect x="121.08" y="300.66" width="4.6" height="4.4" fill="#000"/>
<rect x="131.61" y="305.93" width="4.6" height="4.4" fill="#000"/>
<rect x="152.66" y="310.05" width="4.6" height="4.4" fill="#000"/>
<rect x="163.18" y="311.19" width="4.6" height="4.4" fill="#000"/>
<rect x="173.71" y="311.63" width="4.6" height="4.4" fill="#000"/>
<rect x="189.50" y="313.91" width="4.6" height="4.4" fill="#000"/>
<rect x="205.29" y="314.97" width="4.6" height="4.4" fill="#000"/>
<rect x="226.34" y="316.46" width="4.6" height="4.4" fill="#000"/>
<ellipse cx="49.70" cy="231.30" rx="1.85" ry="1.75" fill="#fff" stroke="#000" stroke-width="1.0"/>
<ellipse cx="54.96" cy="239.20" rx="1.85" ry="1.75" fill="#fff" stroke="#000" stroke-width="1.0"/>
<ellipse cx="65.49" cy="248.86" rx="1.85" ry="1.75" fill="#fff" stroke="#000" stroke-width="1.0"/>
<ellipse cx="81.28" cy="257.64" rx="1.85" ry="1.75" fill="#fff" stroke="#000" stroke-width="1.0"/>
<ellipse cx="91.80" cy="265.98" rx="1.85" ry="1.75" fill="#fff" stroke="#000" stroke-width="1.0"/>
<ellipse cx="107.59" cy="274.76" rx="1.85" ry="1.75" fill="#fff" stroke="#000" stroke-width="1.0"/>
<ellipse cx="123.38" cy="281.35" rx="1.85" ry="1.75" fill="#fff" stroke="#000" stroke-width="1.0"/>
<ellipse cx="133.91" cy="284.86" rx="1.85" ry="1.75" fill="#fff" stroke="#000" stroke-width="1.0"/>
<ellipse cx="154.96" cy="291.88" rx="1.85" ry="1.75" fill="#fff" stroke="#000" stroke-width="1.0"/>
<ellipse cx="165.48" cy="294.96" rx="1.85" ry="1.75" fill="#fff" stroke="#000" stroke-width="1.0"/>
<ellipse cx="176.01" cy="300.22" rx="1.85" ry="1.75" fill="#fff" stroke="#000" stroke-width="1.0"/>
<ellipse cx="191.80" cy="300.22" rx="1.85" ry="1.75" fill="#fff" stroke="#000" stroke-width="1.0"/>
<ellipse cx="207.59" cy="307.25" rx="1.85" ry="1.75" fill="#fff" stroke="#000" stroke-width="1.0"/>
<ellipse cx="228.64" cy="311.20" rx="1.85" ry="1.75" fill="#fff" stroke="#000" stroke-width="1.0"/>
<text transform="translate(36.21 322.75) scale(1.0200 1)" font-size="10.60" font-weight="normal" fill="#000" stroke="#000" stroke-width="0.30">0</text>
<text transform="translate(30.20 305.19) scale(1.0200 1)" font-size="10.60" font-weight="normal" fill="#000" stroke="#000" stroke-width="0.30">20</text>
<text transform="translate(30.20 287.63) scale(1.0200 1)" font-size="10.60" font-weight="normal" fill="#000" stroke="#000" stroke-width="0.30">40</text>
<text transform="translate(30.20 270.07) scale(1.0200 1)" font-size="10.60" font-weight="normal" fill="#000" stroke="#000" stroke-width="0.30">60</text>
<text transform="translate(30.20 252.51) scale(1.0200 1)" font-size="10.60" font-weight="normal" fill="#000" stroke="#000" stroke-width="0.30">80</text>
<g transform="translate(24.18 234.95) scale(1.0200 1)" font-size="10.60" font-weight="normal" fill="#000" stroke="#000" stroke-width="0.30">
<path vector-effect="non-scaling-stroke" transform="translate(0.000 0) scale(0.005176 -0.005176)" d="M763 0L583 0L583 1147C540 1106 483 1065 413 1024C343 983 280 952 223 931L223 1105C323 1152 410 1210 485 1277C560 1344 613 1407 644 1466L763 1466Z"/>
<text x="5.895">00</text>
</g>
<text transform="translate(47.39 337.90) scale(1.0200 1)" font-size="10.60" font-weight="normal" fill="#000" stroke="#000" stroke-width="0.30">0</text>
<text transform="translate(73.72 337.90) scale(1.0200 1)" font-size="10.60" font-weight="normal" fill="#000" stroke="#000" stroke-width="0.30">5</text>
<g transform="translate(96.81 337.90) scale(1.0200 1)" font-size="10.60" font-weight="normal" fill="#000" stroke="#000" stroke-width="0.30">
<path vector-effect="non-scaling-stroke" transform="translate(0.000 0) scale(0.005176 -0.005176)" d="M763 0L583 0L583 1147C540 1106 483 1065 413 1024C343 983 280 952 223 931L223 1105C323 1152 410 1210 485 1277C560 1344 613 1407 644 1466L763 1466Z"/>
<text x="5.895">0</text>
</g>
<g transform="translate(123.14 337.90) scale(1.0200 1)" font-size="10.60" font-weight="normal" fill="#000" stroke="#000" stroke-width="0.30">
<path vector-effect="non-scaling-stroke" transform="translate(0.000 0) scale(0.005176 -0.005176)" d="M763 0L583 0L583 1147C540 1106 483 1065 413 1024C343 983 280 952 223 931L223 1105C323 1152 410 1210 485 1277C560 1344 613 1407 644 1466L763 1466Z"/>
<text x="5.895">5</text>
</g>
<text transform="translate(149.58 337.90) scale(1.0200 1)" font-size="10.60" font-weight="normal" fill="#000" stroke="#000" stroke-width="0.30">20</text>
<text transform="translate(175.91 337.90) scale(1.0200 1)" font-size="10.60" font-weight="normal" fill="#000" stroke="#000" stroke-width="0.30">25</text>
<text transform="translate(202.28 337.90) scale(1.0200 1)" font-size="10.60" font-weight="normal" fill="#000" stroke="#000" stroke-width="0.30">30</text>
<text transform="translate(228.61 337.90) scale(1.0200 1)" font-size="10.60" font-weight="normal" fill="#000" stroke="#000" stroke-width="0.30">35</text>
<text transform="translate(96.05 207.20) scale(0.9308 1)" font-size="11.77" font-weight="bold" fill="#000" stroke="#000" stroke-width="0.15">C4</text>
<line x1="114.00" y1="199.30" x2="116.09" y2="199.30" stroke="#000" stroke-width="1.20"/>
<line x1="117.60" y1="196.80" x2="116.67" y2="201.80" stroke="#000" stroke-width="0.96"/>
<line x1="117.71" y1="199.30" x2="119.80" y2="199.30" stroke="#000" stroke-width="1.20"/>
<text transform="translate(125.86 207.20) scale(0.9405 1)" font-size="11.77" font-weight="bold" fill="#000" stroke="#000" stroke-width="0.15">HOST</text>
<text transform="translate(13.40 291.28) rotate(-90) scale(0.8915 1)" font-size="12.50" font-weight="bold" stroke="#000" stroke-width="0.15">% Survival</text>
<text transform="translate(122.27 349.80) scale(1.0990 1)" font-size="10.17" font-weight="bold" fill="#000" stroke="#000" stroke-width="0.15">Time (d)</text>
<line x1="164.60" y1="221.40" x2="176.80" y2="221.40" stroke="#111" stroke-width="0.90"/>
<rect x="168.50" y="219.20" width="4.4" height="4.4" fill="#000"/>
<line x1="164.60" y1="235.20" x2="176.80" y2="235.20" stroke="#111" stroke-width="0.90"/>
<ellipse cx="170.70" cy="235.20" rx="2.0" ry="1.8" fill="#fff" stroke="#000" stroke-width="0.9"/>
<text transform="translate(179.69 223.60) scale(1.1401 1)" font-size="9.74" font-weight="normal" fill="#000" stroke="#000" stroke-width="0.30">PIGA</text>
<text transform="translate(179.69 237.30) scale(1.1401 1)" font-size="9.74" font-weight="normal" fill="#000" stroke="#000" stroke-width="0.30">PIGA</text>
<line x1="206.60" y1="212.80" x2="210.40" y2="212.80" stroke="#000" stroke-width="1.30"/>
<text transform="translate(205.23 232.17) scale(1.0630 1)" font-size="11.04" font-weight="normal" fill="#000" stroke="#000" stroke-width="0.30">+</text>
<text transform="translate(219.25 223.60) scale(1.1640 1)" font-size="9.74" font-weight="normal" fill="#000" stroke="#000" stroke-width="0.30">n=5</text>
<text transform="translate(219.25 237.30) scale(1.1640 1)" font-size="9.74" font-weight="normal" fill="#000" stroke="#000" stroke-width="0.30">n=5</text>
<line x1="318.50" y1="235.50" x2="318.50" y2="242.50" stroke="#444" stroke-width="0.80"/>
<line x1="316.70" y1="235.50" x2="320.30" y2="235.50" stroke="#444" stroke-width="0.80"/>
<line x1="316.70" y1="242.50" x2="320.30" y2="242.50" stroke="#444" stroke-width="0.80"/>
<line x1="328.50" y1="244.50" x2="328.50" y2="262.50" stroke="#444" stroke-width="0.80"/>
<line x1="326.70" y1="244.50" x2="330.30" y2="244.50" stroke="#444" stroke-width="0.80"/>
<line x1="326.70" y1="262.50" x2="330.30" y2="262.50" stroke="#444" stroke-width="0.80"/>
<line x1="344.50" y1="253.50" x2="344.50" y2="268.50" stroke="#444" stroke-width="0.80"/>
<line x1="342.70" y1="253.50" x2="346.30" y2="253.50" stroke="#444" stroke-width="0.80"/>
<line x1="342.70" y1="268.50" x2="346.30" y2="268.50" stroke="#444" stroke-width="0.80"/>
<line x1="360.50" y1="248.50" x2="360.50" y2="291.50" stroke="#444" stroke-width="0.80"/>
<line x1="358.70" y1="248.50" x2="362.30" y2="248.50" stroke="#444" stroke-width="0.80"/>
<line x1="358.70" y1="291.50" x2="362.30" y2="291.50" stroke="#444" stroke-width="0.80"/>
<line x1="371.50" y1="254.50" x2="371.50" y2="295.50" stroke="#444" stroke-width="0.80"/>
<line x1="369.70" y1="254.50" x2="373.30" y2="254.50" stroke="#444" stroke-width="0.80"/>
<line x1="369.70" y1="295.50" x2="373.30" y2="295.50" stroke="#444" stroke-width="0.80"/>
<line x1="387.50" y1="259.50" x2="387.50" y2="300.50" stroke="#444" stroke-width="0.80"/>
<line x1="385.70" y1="259.50" x2="389.30" y2="259.50" stroke="#444" stroke-width="0.80"/>
<line x1="385.70" y1="300.50" x2="389.30" y2="300.50" stroke="#444" stroke-width="0.80"/>
<line x1="397.50" y1="259.50" x2="397.50" y2="305.50" stroke="#444" stroke-width="0.80"/>
<line x1="395.70" y1="259.50" x2="399.30" y2="259.50" stroke="#444" stroke-width="0.80"/>
<line x1="395.70" y1="305.50" x2="399.30" y2="305.50" stroke="#444" stroke-width="0.80"/>
<line x1="408.50" y1="259.50" x2="408.50" y2="310.50" stroke="#444" stroke-width="0.80"/>
<line x1="406.70" y1="259.50" x2="410.30" y2="259.50" stroke="#444" stroke-width="0.80"/>
<line x1="406.70" y1="310.50" x2="410.30" y2="310.50" stroke="#444" stroke-width="0.80"/>
<line x1="418.50" y1="270.50" x2="418.50" y2="307.50" stroke="#444" stroke-width="0.80"/>
<line x1="416.70" y1="270.50" x2="420.30" y2="270.50" stroke="#444" stroke-width="0.80"/>
<line x1="416.70" y1="307.50" x2="420.30" y2="307.50" stroke="#444" stroke-width="0.80"/>
<line x1="429.50" y1="273.50" x2="429.50" y2="311.50" stroke="#444" stroke-width="0.80"/>
<line x1="427.70" y1="273.50" x2="431.30" y2="273.50" stroke="#444" stroke-width="0.80"/>
<line x1="427.70" y1="311.50" x2="431.30" y2="311.50" stroke="#444" stroke-width="0.80"/>
<line x1="439.50" y1="274.50" x2="439.50" y2="318.70" stroke="#444" stroke-width="0.80"/>
<line x1="437.70" y1="274.50" x2="441.30" y2="274.50" stroke="#444" stroke-width="0.80"/>
<line x1="450.50" y1="276.50" x2="450.50" y2="318.70" stroke="#444" stroke-width="0.80"/>
<line x1="448.70" y1="276.50" x2="452.30" y2="276.50" stroke="#444" stroke-width="0.80"/>
<line x1="461.50" y1="277.50" x2="461.50" y2="318.70" stroke="#444" stroke-width="0.80"/>
<line x1="459.70" y1="277.50" x2="463.30" y2="277.50" stroke="#444" stroke-width="0.80"/>
<line x1="471.50" y1="279.50" x2="471.50" y2="318.70" stroke="#444" stroke-width="0.80"/>
<line x1="469.70" y1="279.50" x2="473.30" y2="279.50" stroke="#444" stroke-width="0.80"/>
<line x1="318.50" y1="217.50" x2="318.50" y2="235.50" stroke="#444" stroke-width="0.80"/>
<line x1="316.70" y1="217.50" x2="320.30" y2="217.50" stroke="#444" stroke-width="0.80"/>
<line x1="316.70" y1="235.50" x2="320.30" y2="235.50" stroke="#444" stroke-width="0.80"/>
<line x1="328.50" y1="228.50" x2="328.50" y2="255.50" stroke="#444" stroke-width="0.80"/>
<line x1="326.70" y1="228.50" x2="330.30" y2="228.50" stroke="#444" stroke-width="0.80"/>
<line x1="326.70" y1="255.50" x2="330.30" y2="255.50" stroke="#444" stroke-width="0.80"/>
<line x1="344.50" y1="233.50" x2="344.50" y2="285.50" stroke="#444" stroke-width="0.80"/>
<line x1="342.70" y1="233.50" x2="346.30" y2="233.50" stroke="#444" stroke-width="0.80"/>
<line x1="342.70" y1="285.50" x2="346.30" y2="285.50" stroke="#444" stroke-width="0.80"/>
<line x1="360.50" y1="284.50" x2="360.50" y2="300.50" stroke="#444" stroke-width="0.80"/>
<line x1="358.70" y1="284.50" x2="362.30" y2="284.50" stroke="#444" stroke-width="0.80"/>
<line x1="358.70" y1="300.50" x2="362.30" y2="300.50" stroke="#444" stroke-width="0.80"/>
<line x1="371.50" y1="286.50" x2="371.50" y2="313.50" stroke="#444" stroke-width="0.80"/>
<line x1="369.70" y1="286.50" x2="373.30" y2="286.50" stroke="#444" stroke-width="0.80"/>
<line x1="369.70" y1="313.50" x2="373.30" y2="313.50" stroke="#444" stroke-width="0.80"/>
<line x1="387.50" y1="305.50" x2="387.50" y2="316.50" stroke="#444" stroke-width="0.80"/>
<line x1="385.70" y1="305.50" x2="389.30" y2="305.50" stroke="#444" stroke-width="0.80"/>
<line x1="385.70" y1="316.50" x2="389.30" y2="316.50" stroke="#444" stroke-width="0.80"/>
<line x1="397.50" y1="308.50" x2="397.50" y2="317.50" stroke="#444" stroke-width="0.80"/>
<line x1="395.70" y1="308.50" x2="399.30" y2="308.50" stroke="#444" stroke-width="0.80"/>
<line x1="395.70" y1="317.50" x2="399.30" y2="317.50" stroke="#444" stroke-width="0.80"/>
<line x1="408.50" y1="311.50" x2="408.50" y2="318.70" stroke="#444" stroke-width="0.80"/>
<line x1="406.70" y1="311.50" x2="410.30" y2="311.50" stroke="#444" stroke-width="0.80"/>
<line x1="418.50" y1="312.50" x2="418.50" y2="318.50" stroke="#444" stroke-width="0.80"/>
<line x1="416.70" y1="312.50" x2="420.30" y2="312.50" stroke="#444" stroke-width="0.80"/>
<line x1="416.70" y1="318.50" x2="420.30" y2="318.50" stroke="#444" stroke-width="0.80"/>
<line x1="429.50" y1="315.50" x2="429.50" y2="318.70" stroke="#444" stroke-width="0.80"/>
<line x1="427.70" y1="315.50" x2="431.30" y2="315.50" stroke="#444" stroke-width="0.80"/>
<line x1="439.50" y1="315.50" x2="439.50" y2="318.70" stroke="#444" stroke-width="0.80"/>
<line x1="437.70" y1="315.50" x2="441.30" y2="315.50" stroke="#444" stroke-width="0.80"/>
<line x1="450.50" y1="316.50" x2="450.50" y2="318.70" stroke="#444" stroke-width="0.80"/>
<line x1="448.70" y1="316.50" x2="452.30" y2="316.50" stroke="#444" stroke-width="0.80"/>
<line x1="461.50" y1="316.50" x2="461.50" y2="318.50" stroke="#444" stroke-width="0.80"/>
<line x1="459.70" y1="316.50" x2="463.30" y2="316.50" stroke="#444" stroke-width="0.80"/>
<line x1="459.70" y1="318.50" x2="463.30" y2="318.50" stroke="#444" stroke-width="0.80"/>
<line x1="471.50" y1="316.50" x2="471.50" y2="318.70" stroke="#444" stroke-width="0.80"/>
<line x1="469.70" y1="316.50" x2="473.30" y2="316.50" stroke="#444" stroke-width="0.80"/>
<line x1="482.50" y1="317.50" x2="482.50" y2="318.70" stroke="#444" stroke-width="0.80"/>
<line x1="480.70" y1="317.50" x2="484.30" y2="317.50" stroke="#444" stroke-width="0.80"/>
<line x1="313.00" y1="218.50" x2="313.00" y2="319.30" stroke="#000" stroke-width="1.30"/>
<line x1="312.40" y1="318.70" x2="498.80" y2="318.70" stroke="#000" stroke-width="1.30"/>
<line x1="309.60" y1="318.70" x2="313.00" y2="318.70" stroke="#000" stroke-width="1.30"/>
<line x1="309.60" y1="300.70" x2="313.00" y2="300.70" stroke="#000" stroke-width="1.30"/>
<line x1="309.60" y1="282.70" x2="313.00" y2="282.70" stroke="#000" stroke-width="1.30"/>
<line x1="309.60" y1="264.70" x2="313.00" y2="264.70" stroke="#000" stroke-width="1.30"/>
<line x1="309.60" y1="246.70" x2="313.00" y2="246.70" stroke="#000" stroke-width="1.30"/>
<line x1="309.60" y1="228.70" x2="313.00" y2="228.70" stroke="#000" stroke-width="1.30"/>
<line x1="313.00" y1="318.70" x2="313.00" y2="322.10" stroke="#000" stroke-width="1.30"/>
<line x1="339.46" y1="318.70" x2="339.46" y2="322.10" stroke="#000" stroke-width="1.30"/>
<line x1="365.91" y1="318.70" x2="365.91" y2="322.10" stroke="#000" stroke-width="1.30"/>
<line x1="392.37" y1="318.70" x2="392.37" y2="322.10" stroke="#000" stroke-width="1.30"/>
<line x1="418.83" y1="318.70" x2="418.83" y2="322.10" stroke="#000" stroke-width="1.30"/>
<line x1="445.29" y1="318.70" x2="445.29" y2="322.10" stroke="#000" stroke-width="1.30"/>
<line x1="471.74" y1="318.70" x2="471.74" y2="322.10" stroke="#000" stroke-width="1.30"/>
<line x1="498.20" y1="318.70" x2="498.20" y2="322.10" stroke="#000" stroke-width="1.30"/>
<polyline points="313.00,228.70 318.29,226.90 328.87,242.20 344.75,259.30 360.62,292.15 371.21,300.25 387.08,311.05 397.66,313.30 408.25,315.10 418.83,315.55 429.41,316.90 439.99,316.90 450.58,317.35 461.16,317.35 471.74,317.80 482.33,318.25 492.91,318.70" fill="none" stroke="#111" stroke-width="0.9"/>
<polyline points="313.00,228.70 318.29,239.05 328.87,253.00 344.75,261.10 360.62,270.10 371.21,275.05 387.08,280.00 397.66,282.25 408.25,284.95 418.83,289.00 429.41,292.60 439.99,297.55 450.58,298.45 461.16,298.00 471.74,301.15 482.33,304.30 492.91,305.20" fill="none" stroke="#111" stroke-width="0.9"/>
<rect x="310.70" y="226.50" width="4.6" height="4.4" fill="#000"/>
<rect x="315.99" y="224.70" width="4.6" height="4.4" fill="#000"/>
<rect x="326.57" y="240.00" width="4.6" height="4.4" fill="#000"/>
<rect x="342.45" y="257.10" width="4.6" height="4.4" fill="#000"/>
<rect x="358.32" y="289.95" width="4.6" height="4.4" fill="#000"/>
<rect x="368.91" y="298.05" width="4.6" height="4.4" fill="#000"/>
<rect x="384.78" y="308.85" width="4.6" height="4.4" fill="#000"/>
<rect x="395.36" y="311.10" width="4.6" height="4.4" fill="#000"/>
<rect x="405.95" y="312.90" width="4.6" height="4.4" fill="#000"/>
<rect x="416.53" y="313.35" width="4.6" height="4.4" fill="#000"/>
<rect x="427.11" y="314.70" width="4.6" height="4.4" fill="#000"/>
<rect x="437.69" y="314.70" width="4.6" height="4.4" fill="#000"/>
<rect x="448.28" y="315.15" width="4.6" height="4.4" fill="#000"/>
<rect x="458.86" y="315.15" width="4.6" height="4.4" fill="#000"/>
<rect x="469.44" y="315.60" width="4.6" height="4.4" fill="#000"/>
<rect x="480.03" y="316.05" width="4.6" height="4.4" fill="#000"/>
<rect x="490.61" y="316.50" width="4.6" height="4.4" fill="#000"/>
<ellipse cx="313.00" cy="228.70" rx="1.85" ry="1.75" fill="#fff" stroke="#000" stroke-width="1.0"/>
<ellipse cx="318.29" cy="239.05" rx="1.85" ry="1.75" fill="#fff" stroke="#000" stroke-width="1.0"/>
<ellipse cx="328.87" cy="253.00" rx="1.85" ry="1.75" fill="#fff" stroke="#000" stroke-width="1.0"/>
<ellipse cx="344.75" cy="261.10" rx="1.85" ry="1.75" fill="#fff" stroke="#000" stroke-width="1.0"/>
<ellipse cx="360.62" cy="270.10" rx="1.85" ry="1.75" fill="#fff" stroke="#000" stroke-width="1.0"/>
<ellipse cx="371.21" cy="275.05" rx="1.85" ry="1.75" fill="#fff" stroke="#000" stroke-width="1.0"/>
<ellipse cx="387.08" cy="280.00" rx="1.85" ry="1.75" fill="#fff" stroke="#000" stroke-width="1.0"/>
<ellipse cx="397.66" cy="282.25" rx="1.85" ry="1.75" fill="#fff" stroke="#000" stroke-width="1.0"/>
<ellipse cx="408.25" cy="284.95" rx="1.85" ry="1.75" fill="#fff" stroke="#000" stroke-width="1.0"/>
<ellipse cx="418.83" cy="289.00" rx="1.85" ry="1.75" fill="#fff" stroke="#000" stroke-width="1.0"/>
<ellipse cx="429.41" cy="292.60" rx="1.85" ry="1.75" fill="#fff" stroke="#000" stroke-width="1.0"/>
<ellipse cx="439.99" cy="297.55" rx="1.85" ry="1.75" fill="#fff" stroke="#000" stroke-width="1.0"/>
<ellipse cx="450.58" cy="298.45" rx="1.85" ry="1.75" fill="#fff" stroke="#000" stroke-width="1.0"/>
<ellipse cx="461.16" cy="298.00" rx="1.85" ry="1.75" fill="#fff" stroke="#000" stroke-width="1.0"/>
<ellipse cx="471.74" cy="301.15" rx="1.85" ry="1.75" fill="#fff" stroke="#000" stroke-width="1.0"/>
<ellipse cx="482.33" cy="304.30" rx="1.85" ry="1.75" fill="#fff" stroke="#000" stroke-width="1.0"/>
<ellipse cx="492.91" cy="305.20" rx="1.85" ry="1.75" fill="#fff" stroke="#000" stroke-width="1.0"/>
<text transform="translate(299.32 322.35) scale(1.0000 1)" font-size="10.60" font-weight="normal" fill="#000" stroke="#000" stroke-width="0.30">0</text>
<text transform="translate(293.42 304.35) scale(1.0000 1)" font-size="10.60" font-weight="normal" fill="#000" stroke="#000" stroke-width="0.30">20</text>
<text transform="translate(293.42 286.35) scale(1.0000 1)" font-size="10.60" font-weight="normal" fill="#000" stroke="#000" stroke-width="0.30">40</text>
<text transform="translate(293.42 268.35) scale(1.0000 1)" font-size="10.60" font-weight="normal" fill="#000" stroke="#000" stroke-width="0.30">60</text>
<text transform="translate(293.42 250.35) scale(1.0000 1)" font-size="10.60" font-weight="normal" fill="#000" stroke="#000" stroke-width="0.30">80</text>
<g transform="translate(287.53 232.35) scale(1.0000 1)" font-size="10.60" font-weight="normal" fill="#000" stroke="#000" stroke-width="0.30">
<path vector-effect="non-scaling-stroke" transform="translate(0.000 0) scale(0.005176 -0.005176)" d="M763 0L583 0L583 1147C540 1106 483 1065 413 1024C343 983 280 952 223 931L223 1105C323 1152 410 1210 485 1277C560 1344 613 1407 644 1466L763 1466Z"/>
<text x="5.895">00</text>
</g>
<text transform="translate(310.75 336.70) scale(1.0000 1)" font-size="10.60" font-weight="normal" fill="#000" stroke="#000" stroke-width="0.30">0</text>
<text transform="translate(337.22 336.70) scale(1.0000 1)" font-size="10.60" font-weight="normal" fill="#000" stroke="#000" stroke-width="0.30">5</text>
<g transform="translate(360.52 336.70) scale(1.0000 1)" font-size="10.60" font-weight="normal" fill="#000" stroke="#000" stroke-width="0.30">
<path vector-effect="non-scaling-stroke" transform="translate(0.000 0) scale(0.005176 -0.005176)" d="M763 0L583 0L583 1147C540 1106 483 1065 413 1024C343 983 280 952 223 931L223 1105C323 1152 410 1210 485 1277C560 1344 613 1407 644 1466L763 1466Z"/>
<text x="5.895">0</text>
</g>
<g transform="translate(387.00 336.70) scale(1.0000 1)" font-size="10.60" font-weight="normal" fill="#000" stroke="#000" stroke-width="0.30">
<path vector-effect="non-scaling-stroke" transform="translate(0.000 0) scale(0.005176 -0.005176)" d="M763 0L583 0L583 1147C540 1106 483 1065 413 1024C343 983 280 952 223 931L223 1105C323 1152 410 1210 485 1277C560 1344 613 1407 644 1466L763 1466Z"/>
<text x="5.895">5</text>
</g>
<text transform="translate(413.57 336.70) scale(1.0000 1)" font-size="10.60" font-weight="normal" fill="#000" stroke="#000" stroke-width="0.30">20</text>
<text transform="translate(440.05 336.70) scale(1.0000 1)" font-size="10.60" font-weight="normal" fill="#000" stroke="#000" stroke-width="0.30">25</text>
<text transform="translate(466.55 336.70) scale(1.0000 1)" font-size="10.60" font-weight="normal" fill="#000" stroke="#000" stroke-width="0.30">30</text>
<text transform="translate(493.03 336.70) scale(1.0000 1)" font-size="10.60" font-weight="normal" fill="#000" stroke="#000" stroke-width="0.30">35</text>
<text transform="translate(366.97 198.50) scale(0.9873 1)" font-size="11.05" font-weight="bold" fill="#000" stroke="#000" stroke-width="0.15">Bf</text>
<line x1="382.10" y1="190.70" x2="384.33" y2="190.70" stroke="#000" stroke-width="1.20"/>
<line x1="385.94" y1="188.25" x2="384.95" y2="193.15" stroke="#000" stroke-width="0.96"/>
<line x1="386.07" y1="190.70" x2="388.30" y2="190.70" stroke="#000" stroke-width="1.20"/>
<text transform="translate(390.76 198.50) scale(1.0058 1)" font-size="11.05" font-weight="bold" fill="#000" stroke="#000" stroke-width="0.15">HOST</text>
<text transform="translate(284.90 299.68) rotate(-90) scale(0.9792 1)" font-size="11.63" font-weight="bold" stroke="#000" stroke-width="0.15">% Survival</text>
<text transform="translate(385.78 351.40) scale(1.0635 1)" font-size="10.47" font-weight="bold" fill="#000" stroke="#000" stroke-width="0.15">Time (d)</text>
<line x1="416.60" y1="219.00" x2="428.80" y2="219.00" stroke="#111" stroke-width="0.90"/>
<rect x="420.50" y="216.80" width="4.4" height="4.4" fill="#000"/>
<line x1="416.60" y1="232.80" x2="428.80" y2="232.80" stroke="#111" stroke-width="0.90"/>
<ellipse cx="422.70" cy="232.80" rx="2.0" ry="1.8" fill="#fff" stroke="#000" stroke-width="0.9"/>
<text transform="translate(431.68 221.90) scale(1.0843 1)" font-size="10.32" font-weight="normal" fill="#000" stroke="#000" stroke-width="0.30">PIGA</text>
<text transform="translate(431.68 235.40) scale(1.0693 1)" font-size="10.47" font-weight="normal" fill="#000" stroke="#000" stroke-width="0.30">PIGA</text>
<line x1="460.20" y1="211.80" x2="462.80" y2="211.80" stroke="#000" stroke-width="1.30"/>
<text transform="translate(457.85 230.48) scale(1.0910 1)" font-size="12.26" font-weight="normal" fill="#000" stroke="#000" stroke-width="0.30">+</text>
<text transform="translate(475.56 221.90) scale(1.0862 1)" font-size="10.32" font-weight="normal" fill="#000" stroke="#000" stroke-width="0.30">n=5</text>
<text transform="translate(475.56 235.40) scale(1.0712 1)" font-size="10.47" font-weight="normal" fill="#000" stroke="#000" stroke-width="0.30">n=5</text>
<line x1="54.50" y1="415.50" x2="54.50" y2="424.50" stroke="#444" stroke-width="0.80"/>
<line x1="52.70" y1="415.50" x2="56.30" y2="415.50" stroke="#444" stroke-width="0.80"/>
<line x1="52.70" y1="424.50" x2="56.30" y2="424.50" stroke="#444" stroke-width="0.80"/>
<line x1="65.50" y1="414.50" x2="65.50" y2="430.50" stroke="#444" stroke-width="0.80"/>
<line x1="63.70" y1="414.50" x2="67.30" y2="414.50" stroke="#444" stroke-width="0.80"/>
<line x1="63.70" y1="430.50" x2="67.30" y2="430.50" stroke="#444" stroke-width="0.80"/>
<line x1="81.50" y1="409.50" x2="81.50" y2="443.50" stroke="#444" stroke-width="0.80"/>
<line x1="79.70" y1="409.50" x2="83.30" y2="409.50" stroke="#444" stroke-width="0.80"/>
<line x1="79.70" y1="443.50" x2="83.30" y2="443.50" stroke="#444" stroke-width="0.80"/>
<line x1="97.50" y1="421.50" x2="97.50" y2="446.50" stroke="#444" stroke-width="0.80"/>
<line x1="95.70" y1="421.50" x2="99.30" y2="421.50" stroke="#444" stroke-width="0.80"/>
<line x1="95.70" y1="446.50" x2="99.30" y2="446.50" stroke="#444" stroke-width="0.80"/>
<line x1="108.50" y1="422.50" x2="108.50" y2="454.50" stroke="#444" stroke-width="0.80"/>
<line x1="106.70" y1="422.50" x2="110.30" y2="422.50" stroke="#444" stroke-width="0.80"/>
<line x1="106.70" y1="454.50" x2="110.30" y2="454.50" stroke="#444" stroke-width="0.80"/>
<line x1="124.50" y1="435.50" x2="124.50" y2="469.50" stroke="#444" stroke-width="0.80"/>
<line x1="122.70" y1="435.50" x2="126.30" y2="435.50" stroke="#444" stroke-width="0.80"/>
<line x1="122.70" y1="469.50" x2="126.30" y2="469.50" stroke="#444" stroke-width="0.80"/>
<line x1="134.50" y1="439.50" x2="134.50" y2="474.50" stroke="#444" stroke-width="0.80"/>
<line x1="132.70" y1="439.50" x2="136.30" y2="439.50" stroke="#444" stroke-width="0.80"/>
<line x1="132.70" y1="474.50" x2="136.30" y2="474.50" stroke="#444" stroke-width="0.80"/>
<line x1="145.50" y1="443.50" x2="145.50" y2="481.50" stroke="#444" stroke-width="0.80"/>
<line x1="143.70" y1="443.50" x2="147.30" y2="443.50" stroke="#444" stroke-width="0.80"/>
<line x1="143.70" y1="481.50" x2="147.30" y2="481.50" stroke="#444" stroke-width="0.80"/>
<line x1="156.50" y1="448.50" x2="156.50" y2="480.50" stroke="#444" stroke-width="0.80"/>
<line x1="154.70" y1="448.50" x2="158.30" y2="448.50" stroke="#444" stroke-width="0.80"/>
<line x1="154.70" y1="480.50" x2="158.30" y2="480.50" stroke="#444" stroke-width="0.80"/>
<line x1="166.50" y1="453.50" x2="166.50" y2="482.50" stroke="#444" stroke-width="0.80"/>
<line x1="164.70" y1="453.50" x2="168.30" y2="453.50" stroke="#444" stroke-width="0.80"/>
<line x1="164.70" y1="482.50" x2="168.30" y2="482.50" stroke="#444" stroke-width="0.80"/>
<line x1="177.50" y1="455.50" x2="177.50" y2="488.50" stroke="#444" stroke-width="0.80"/>
<line x1="175.70" y1="455.50" x2="179.30" y2="455.50" stroke="#444" stroke-width="0.80"/>
<line x1="175.70" y1="488.50" x2="179.30" y2="488.50" stroke="#444" stroke-width="0.80"/>
<line x1="188.50" y1="460.50" x2="188.50" y2="491.50" stroke="#444" stroke-width="0.80"/>
<line x1="186.70" y1="460.50" x2="190.30" y2="460.50" stroke="#444" stroke-width="0.80"/>
<line x1="186.70" y1="491.50" x2="190.30" y2="491.50" stroke="#444" stroke-width="0.80"/>
<line x1="198.50" y1="465.50" x2="198.50" y2="491.50" stroke="#444" stroke-width="0.80"/>
<line x1="196.70" y1="465.50" x2="200.30" y2="465.50" stroke="#444" stroke-width="0.80"/>
<line x1="196.70" y1="491.50" x2="200.30" y2="491.50" stroke="#444" stroke-width="0.80"/>
<line x1="209.50" y1="467.50" x2="209.50" y2="492.50" stroke="#444" stroke-width="0.80"/>
<line x1="207.70" y1="467.50" x2="211.30" y2="467.50" stroke="#444" stroke-width="0.80"/>
<line x1="207.70" y1="492.50" x2="211.30" y2="492.50" stroke="#444" stroke-width="0.80"/>
<line x1="220.50" y1="481.50" x2="220.50" y2="485.50" stroke="#444" stroke-width="0.80"/>
<line x1="218.70" y1="481.50" x2="222.30" y2="481.50" stroke="#444" stroke-width="0.80"/>
<line x1="218.70" y1="485.50" x2="222.30" y2="485.50" stroke="#444" stroke-width="0.80"/>
<line x1="231.50" y1="481.50" x2="231.50" y2="487.50" stroke="#444" stroke-width="0.80"/>
<line x1="229.70" y1="481.50" x2="233.30" y2="481.50" stroke="#444" stroke-width="0.80"/>
<line x1="229.70" y1="487.50" x2="233.30" y2="487.50" stroke="#444" stroke-width="0.80"/>
<line x1="54.50" y1="405.50" x2="54.50" y2="414.50" stroke="#444" stroke-width="0.80"/>
<line x1="52.70" y1="405.50" x2="56.30" y2="405.50" stroke="#444" stroke-width="0.80"/>
<line x1="52.70" y1="414.50" x2="56.30" y2="414.50" stroke="#444" stroke-width="0.80"/>
<line x1="65.50" y1="405.50" x2="65.50" y2="419.50" stroke="#444" stroke-width="0.80"/>
<line x1="63.70" y1="405.50" x2="67.30" y2="405.50" stroke="#444" stroke-width="0.80"/>
<line x1="63.70" y1="419.50" x2="67.30" y2="419.50" stroke="#444" stroke-width="0.80"/>
<line x1="81.50" y1="420.50" x2="81.50" y2="427.50" stroke="#444" stroke-width="0.80"/>
<line x1="79.70" y1="420.50" x2="83.30" y2="420.50" stroke="#444" stroke-width="0.80"/>
<line x1="79.70" y1="427.50" x2="83.30" y2="427.50" stroke="#444" stroke-width="0.80"/>
<line x1="97.50" y1="435.50" x2="97.50" y2="456.50" stroke="#444" stroke-width="0.80"/>
<line x1="95.70" y1="435.50" x2="99.30" y2="435.50" stroke="#444" stroke-width="0.80"/>
<line x1="95.70" y1="456.50" x2="99.30" y2="456.50" stroke="#444" stroke-width="0.80"/>
<line x1="108.50" y1="447.50" x2="108.50" y2="485.50" stroke="#444" stroke-width="0.80"/>
<line x1="106.70" y1="447.50" x2="110.30" y2="447.50" stroke="#444" stroke-width="0.80"/>
<line x1="106.70" y1="485.50" x2="110.30" y2="485.50" stroke="#444" stroke-width="0.80"/>
<line x1="124.50" y1="469.50" x2="124.50" y2="497.80" stroke="#444" stroke-width="0.80"/>
<line x1="122.70" y1="469.50" x2="126.30" y2="469.50" stroke="#444" stroke-width="0.80"/>
<line x1="134.50" y1="474.50" x2="134.50" y2="497.80" stroke="#444" stroke-width="0.80"/>
<line x1="132.70" y1="474.50" x2="136.30" y2="474.50" stroke="#444" stroke-width="0.80"/>
<line x1="145.50" y1="476.50" x2="145.50" y2="497.80" stroke="#444" stroke-width="0.80"/>
<line x1="143.70" y1="476.50" x2="147.30" y2="476.50" stroke="#444" stroke-width="0.80"/>
<line x1="156.50" y1="478.50" x2="156.50" y2="497.80" stroke="#444" stroke-width="0.80"/>
<line x1="154.70" y1="478.50" x2="158.30" y2="478.50" stroke="#444" stroke-width="0.80"/>
<line x1="166.50" y1="481.50" x2="166.50" y2="497.80" stroke="#444" stroke-width="0.80"/>
<line x1="164.70" y1="481.50" x2="168.30" y2="481.50" stroke="#444" stroke-width="0.80"/>
<line x1="177.50" y1="484.50" x2="177.50" y2="497.80" stroke="#444" stroke-width="0.80"/>
<line x1="175.70" y1="484.50" x2="179.30" y2="484.50" stroke="#444" stroke-width="0.80"/>
<line x1="188.50" y1="486.50" x2="188.50" y2="497.80" stroke="#444" stroke-width="0.80"/>
<line x1="186.70" y1="486.50" x2="190.30" y2="486.50" stroke="#444" stroke-width="0.80"/>
<line x1="198.50" y1="487.50" x2="198.50" y2="497.80" stroke="#444" stroke-width="0.80"/>
<line x1="196.70" y1="487.50" x2="200.30" y2="487.50" stroke="#444" stroke-width="0.80"/>
<line x1="209.50" y1="488.50" x2="209.50" y2="497.80" stroke="#444" stroke-width="0.80"/>
<line x1="207.70" y1="488.50" x2="211.30" y2="488.50" stroke="#444" stroke-width="0.80"/>
<line x1="220.50" y1="488.50" x2="220.50" y2="497.80" stroke="#444" stroke-width="0.80"/>
<line x1="218.70" y1="488.50" x2="222.30" y2="488.50" stroke="#444" stroke-width="0.80"/>
<line x1="231.50" y1="492.50" x2="231.50" y2="497.50" stroke="#444" stroke-width="0.80"/>
<line x1="229.70" y1="492.50" x2="233.30" y2="492.50" stroke="#444" stroke-width="0.80"/>
<line x1="229.70" y1="497.50" x2="233.30" y2="497.50" stroke="#444" stroke-width="0.80"/>
<line x1="49.30" y1="400.30" x2="49.30" y2="498.40" stroke="#000" stroke-width="1.30"/>
<line x1="48.70" y1="497.80" x2="237.00" y2="497.80" stroke="#000" stroke-width="1.30"/>
<line x1="45.90" y1="497.80" x2="49.30" y2="497.80" stroke="#000" stroke-width="1.30"/>
<line x1="45.90" y1="480.14" x2="49.30" y2="480.14" stroke="#000" stroke-width="1.30"/>
<line x1="45.90" y1="462.48" x2="49.30" y2="462.48" stroke="#000" stroke-width="1.30"/>
<line x1="45.90" y1="444.82" x2="49.30" y2="444.82" stroke="#000" stroke-width="1.30"/>
<line x1="45.90" y1="427.16" x2="49.30" y2="427.16" stroke="#000" stroke-width="1.30"/>
<line x1="45.90" y1="409.50" x2="49.30" y2="409.50" stroke="#000" stroke-width="1.30"/>
<line x1="49.30" y1="497.80" x2="49.30" y2="501.20" stroke="#000" stroke-width="1.30"/>
<line x1="76.03" y1="497.80" x2="76.03" y2="501.20" stroke="#000" stroke-width="1.30"/>
<line x1="102.76" y1="497.80" x2="102.76" y2="501.20" stroke="#000" stroke-width="1.30"/>
<line x1="129.49" y1="497.80" x2="129.49" y2="501.20" stroke="#000" stroke-width="1.30"/>
<line x1="156.21" y1="497.80" x2="156.21" y2="501.20" stroke="#000" stroke-width="1.30"/>
<line x1="182.94" y1="497.80" x2="182.94" y2="501.20" stroke="#000" stroke-width="1.30"/>
<line x1="209.67" y1="497.80" x2="209.67" y2="501.20" stroke="#000" stroke-width="1.30"/>
<line x1="236.40" y1="497.80" x2="236.40" y2="501.20" stroke="#000" stroke-width="1.30"/>
<polyline points="49.30,409.50 54.65,410.38 65.34,412.59 81.37,424.07 97.41,445.70 108.10,466.45 124.14,483.67 134.83,486.32 145.52,487.20 156.21,488.09 166.91,489.85 177.60,491.18 188.29,492.06 198.98,492.50 209.67,493.38 220.36,493.38 231.05,494.71" fill="none" stroke="#111" stroke-width="0.9"/>
<polyline points="49.30,409.50 54.65,420.10 65.34,422.75 81.37,426.72 97.41,434.22 108.10,438.64 124.14,452.33 134.83,457.18 145.52,462.48 156.21,464.25 166.91,468.22 177.60,472.19 188.29,476.17 198.98,478.37 209.67,480.14 220.36,483.67 231.05,484.56" fill="none" stroke="#111" stroke-width="0.9"/>
<rect x="47.00" y="407.30" width="4.6" height="4.4" fill="#000"/>
<rect x="52.35" y="408.18" width="4.6" height="4.4" fill="#000"/>
<rect x="63.04" y="410.39" width="4.6" height="4.4" fill="#000"/>
<rect x="79.07" y="421.87" width="4.6" height="4.4" fill="#000"/>
<rect x="95.11" y="443.50" width="4.6" height="4.4" fill="#000"/>
<rect x="105.80" y="464.25" width="4.6" height="4.4" fill="#000"/>
<rect x="121.84" y="481.47" width="4.6" height="4.4" fill="#000"/>
<rect x="132.53" y="484.12" width="4.6" height="4.4" fill="#000"/>
<rect x="143.22" y="485.00" width="4.6" height="4.4" fill="#000"/>
<rect x="153.91" y="485.89" width="4.6" height="4.4" fill="#000"/>
<rect x="164.61" y="487.65" width="4.6" height="4.4" fill="#000"/>
<rect x="175.30" y="488.98" width="4.6" height="4.4" fill="#000"/>
<rect x="185.99" y="489.86" width="4.6" height="4.4" fill="#000"/>
<rect x="196.68" y="490.30" width="4.6" height="4.4" fill="#000"/>
<rect x="207.37" y="491.19" width="4.6" height="4.4" fill="#000"/>
<rect x="218.06" y="491.19" width="4.6" height="4.4" fill="#000"/>
<rect x="228.75" y="492.51" width="4.6" height="4.4" fill="#000"/>
<ellipse cx="49.30" cy="409.50" rx="1.85" ry="1.75" fill="#fff" stroke="#000" stroke-width="1.0"/>
<ellipse cx="54.65" cy="420.10" rx="1.85" ry="1.75" fill="#fff" stroke="#000" stroke-width="1.0"/>
<ellipse cx="65.34" cy="422.75" rx="1.85" ry="1.75" fill="#fff" stroke="#000" stroke-width="1.0"/>
<ellipse cx="81.37" cy="426.72" rx="1.85" ry="1.75" fill="#fff" stroke="#000" stroke-width="1.0"/>
<ellipse cx="97.41" cy="434.22" rx="1.85" ry="1.75" fill="#fff" stroke="#000" stroke-width="1.0"/>
<ellipse cx="108.10" cy="438.64" rx="1.85" ry="1.75" fill="#fff" stroke="#000" stroke-width="1.0"/>
<ellipse cx="124.14" cy="452.33" rx="1.85" ry="1.75" fill="#fff" stroke="#000" stroke-width="1.0"/>
<ellipse cx="134.83" cy="457.18" rx="1.85" ry="1.75" fill="#fff" stroke="#000" stroke-width="1.0"/>
<ellipse cx="145.52" cy="462.48" rx="1.85" ry="1.75" fill="#fff" stroke="#000" stroke-width="1.0"/>
<ellipse cx="156.21" cy="464.25" rx="1.85" ry="1.75" fill="#fff" stroke="#000" stroke-width="1.0"/>
<ellipse cx="166.91" cy="468.22" rx="1.85" ry="1.75" fill="#fff" stroke="#000" stroke-width="1.0"/>
<ellipse cx="177.60" cy="472.19" rx="1.85" ry="1.75" fill="#fff" stroke="#000" stroke-width="1.0"/>
<ellipse cx="188.29" cy="476.17" rx="1.85" ry="1.75" fill="#fff" stroke="#000" stroke-width="1.0"/>
<ellipse cx="198.98" cy="478.37" rx="1.85" ry="1.75" fill="#fff" stroke="#000" stroke-width="1.0"/>
<ellipse cx="209.67" cy="480.14" rx="1.85" ry="1.75" fill="#fff" stroke="#000" stroke-width="1.0"/>
<ellipse cx="220.36" cy="483.67" rx="1.85" ry="1.75" fill="#fff" stroke="#000" stroke-width="1.0"/>
<ellipse cx="231.05" cy="484.56" rx="1.85" ry="1.75" fill="#fff" stroke="#000" stroke-width="1.0"/>
<text transform="translate(36.32 501.45) scale(1.0000 1)" font-size="10.60" font-weight="normal" fill="#000" stroke="#000" stroke-width="0.30">0</text>
<text transform="translate(30.42 483.79) scale(1.0000 1)" font-size="10.60" font-weight="normal" fill="#000" stroke="#000" stroke-width="0.30">20</text>
<text transform="translate(30.42 466.13) scale(1.0000 1)" font-size="10.60" font-weight="normal" fill="#000" stroke="#000" stroke-width="0.30">40</text>
<text transform="translate(30.42 448.47) scale(1.0000 1)" font-size="10.60" font-weight="normal" fill="#000" stroke="#000" stroke-width="0.30">60</text>
<text transform="translate(30.42 430.81) scale(1.0000 1)" font-size="10.60" font-weight="normal" fill="#000" stroke="#000" stroke-width="0.30">80</text>
<g transform="translate(24.53 413.15) scale(1.0000 1)" font-size="10.60" font-weight="normal" fill="#000" stroke="#000" stroke-width="0.30">
<path vector-effect="non-scaling-stroke" transform="translate(0.000 0) scale(0.005176 -0.005176)" d="M763 0L583 0L583 1147C540 1106 483 1065 413 1024C343 983 280 952 223 931L223 1105C323 1152 410 1210 485 1277C560 1344 613 1407 644 1466L763 1466Z"/>
<text x="5.895">00</text>
</g>
<text transform="translate(47.05 516.90) scale(1.0000 1)" font-size="10.60" font-weight="normal" fill="#000" stroke="#000" stroke-width="0.30">0</text>
<text transform="translate(73.79 516.90) scale(1.0000 1)" font-size="10.60" font-weight="normal" fill="#000" stroke="#000" stroke-width="0.30">5</text>
<g transform="translate(97.37 516.90) scale(1.0000 1)" font-size="10.60" font-weight="normal" fill="#000" stroke="#000" stroke-width="0.30">
<path vector-effect="non-scaling-stroke" transform="translate(0.000 0) scale(0.005176 -0.005176)" d="M763 0L583 0L583 1147C540 1106 483 1065 413 1024C343 983 280 952 223 931L223 1105C323 1152 410 1210 485 1277C560 1344 613 1407 644 1466L763 1466Z"/>
<text x="5.895">0</text>
</g>
<g transform="translate(124.11 516.90) scale(1.0000 1)" font-size="10.60" font-weight="normal" fill="#000" stroke="#000" stroke-width="0.30">
<path vector-effect="non-scaling-stroke" transform="translate(0.000 0) scale(0.005176 -0.005176)" d="M763 0L583 0L583 1147C540 1106 483 1065 413 1024C343 983 280 952 223 931L223 1105C323 1152 410 1210 485 1277C560 1344 613 1407 644 1466L763 1466Z"/>
<text x="5.895">5</text>
</g>
<text transform="translate(150.96 516.90) scale(1.0000 1)" font-size="10.60" font-weight="normal" fill="#000" stroke="#000" stroke-width="0.30">20</text>
<text transform="translate(177.70 516.90) scale(1.0000 1)" font-size="10.60" font-weight="normal" fill="#000" stroke="#000" stroke-width="0.30">25</text>
<text transform="translate(204.48 516.90) scale(1.0000 1)" font-size="10.60" font-weight="normal" fill="#000" stroke="#000" stroke-width="0.30">30</text>
<text transform="translate(231.23 516.90) scale(1.0000 1)" font-size="10.60" font-weight="normal" fill="#000" stroke="#000" stroke-width="0.30">35</text>
<text transform="translate(95.34 382.60) scale(0.9840 1)" font-size="11.34" font-weight="bold" fill="#000" stroke="#000" stroke-width="0.15">C3</text>
<line x1="113.00" y1="374.70" x2="115.16" y2="374.70" stroke="#000" stroke-width="1.20"/>
<line x1="116.72" y1="372.25" x2="115.76" y2="377.15" stroke="#000" stroke-width="0.96"/>
<line x1="116.84" y1="374.70" x2="119.00" y2="374.70" stroke="#000" stroke-width="1.20"/>
<text transform="translate(121.84 382.60) scale(0.9963 1)" font-size="11.34" font-weight="bold" fill="#000" stroke="#000" stroke-width="0.15">HOST</text>
<text transform="translate(10.10 472.88) rotate(-90) scale(0.9259 1)" font-size="12.21" font-weight="bold" stroke="#000" stroke-width="0.15">% Survival</text>
<text transform="translate(122.27 532.80) scale(1.0538 1)" font-size="10.61" font-weight="bold" fill="#000" stroke="#000" stroke-width="0.15">Time (d)</text>
<line x1="153.80" y1="399.50" x2="166.60" y2="399.50" stroke="#111" stroke-width="0.90"/>
<rect x="158.00" y="397.30" width="4.4" height="4.4" fill="#000"/>
<line x1="153.80" y1="413.10" x2="166.60" y2="413.10" stroke="#111" stroke-width="0.90"/>
<ellipse cx="160.20" cy="413.10" rx="2.0" ry="1.8" fill="#fff" stroke="#000" stroke-width="0.9"/>
<text transform="translate(168.99 402.00) scale(1.0651 1)" font-size="10.47" font-weight="normal" fill="#000" stroke="#000" stroke-width="0.30">PIGA</text>
<text transform="translate(168.99 415.60) scale(1.0955 1)" font-size="10.17" font-weight="normal" fill="#000" stroke="#000" stroke-width="0.30">PIGA</text>
<line x1="196.90" y1="390.80" x2="199.70" y2="390.80" stroke="#000" stroke-width="1.30"/>
<text transform="translate(194.79 411.42) scale(1.0777 1)" font-size="11.65" font-weight="normal" fill="#000" stroke="#000" stroke-width="0.30">+</text>
<text transform="translate(209.15 402.00) scale(1.0832 1)" font-size="10.47" font-weight="normal" fill="#000" stroke="#000" stroke-width="0.30">n=5</text>
<text transform="translate(209.15 415.60) scale(1.1141 1)" font-size="10.17" font-weight="normal" fill="#000" stroke="#000" stroke-width="0.30">n=5</text>
<line x1="55.50" y1="606.50" x2="55.50" y2="609.50" stroke="#444" stroke-width="0.80"/>
<line x1="53.70" y1="606.50" x2="57.30" y2="606.50" stroke="#444" stroke-width="0.80"/>
<line x1="53.70" y1="609.50" x2="57.30" y2="609.50" stroke="#444" stroke-width="0.80"/>
<line x1="66.50" y1="611.50" x2="66.50" y2="627.50" stroke="#444" stroke-width="0.80"/>
<line x1="64.70" y1="611.50" x2="68.30" y2="611.50" stroke="#444" stroke-width="0.80"/>
<line x1="64.70" y1="627.50" x2="68.30" y2="627.50" stroke="#444" stroke-width="0.80"/>
<line x1="82.50" y1="614.50" x2="82.50" y2="628.50" stroke="#444" stroke-width="0.80"/>
<line x1="80.70" y1="614.50" x2="84.30" y2="614.50" stroke="#444" stroke-width="0.80"/>
<line x1="80.70" y1="628.50" x2="84.30" y2="628.50" stroke="#444" stroke-width="0.80"/>
<line x1="98.50" y1="622.50" x2="98.50" y2="641.50" stroke="#444" stroke-width="0.80"/>
<line x1="96.70" y1="622.50" x2="100.30" y2="622.50" stroke="#444" stroke-width="0.80"/>
<line x1="96.70" y1="641.50" x2="100.30" y2="641.50" stroke="#444" stroke-width="0.80"/>
<line x1="114.50" y1="640.50" x2="114.50" y2="665.50" stroke="#444" stroke-width="0.80"/>
<line x1="112.70" y1="640.50" x2="116.30" y2="640.50" stroke="#444" stroke-width="0.80"/>
<line x1="112.70" y1="665.50" x2="116.30" y2="665.50" stroke="#444" stroke-width="0.80"/>
<line x1="130.50" y1="637.50" x2="130.50" y2="666.50" stroke="#444" stroke-width="0.80"/>
<line x1="128.70" y1="637.50" x2="132.30" y2="637.50" stroke="#444" stroke-width="0.80"/>
<line x1="128.70" y1="666.50" x2="132.30" y2="666.50" stroke="#444" stroke-width="0.80"/>
<line x1="151.50" y1="649.50" x2="151.50" y2="670.50" stroke="#444" stroke-width="0.80"/>
<line x1="149.70" y1="649.50" x2="153.30" y2="649.50" stroke="#444" stroke-width="0.80"/>
<line x1="149.70" y1="670.50" x2="153.30" y2="670.50" stroke="#444" stroke-width="0.80"/>
<line x1="167.50" y1="653.50" x2="167.50" y2="671.50" stroke="#444" stroke-width="0.80"/>
<line x1="165.70" y1="653.50" x2="169.30" y2="653.50" stroke="#444" stroke-width="0.80"/>
<line x1="165.70" y1="671.50" x2="169.30" y2="671.50" stroke="#444" stroke-width="0.80"/>
<line x1="188.50" y1="658.50" x2="188.50" y2="678.50" stroke="#444" stroke-width="0.80"/>
<line x1="186.70" y1="658.50" x2="190.30" y2="658.50" stroke="#444" stroke-width="0.80"/>
<line x1="186.70" y1="678.50" x2="190.30" y2="678.50" stroke="#444" stroke-width="0.80"/>
<line x1="209.50" y1="668.50" x2="209.50" y2="680.50" stroke="#444" stroke-width="0.80"/>
<line x1="207.70" y1="668.50" x2="211.30" y2="668.50" stroke="#444" stroke-width="0.80"/>
<line x1="207.70" y1="680.50" x2="211.30" y2="680.50" stroke="#444" stroke-width="0.80"/>
<line x1="230.50" y1="674.50" x2="230.50" y2="685.50" stroke="#444" stroke-width="0.80"/>
<line x1="228.70" y1="674.50" x2="232.30" y2="674.50" stroke="#444" stroke-width="0.80"/>
<line x1="228.70" y1="685.50" x2="232.30" y2="685.50" stroke="#444" stroke-width="0.80"/>
<line x1="55.50" y1="606.50" x2="55.50" y2="610.50" stroke="#444" stroke-width="0.80"/>
<line x1="53.70" y1="606.50" x2="57.30" y2="606.50" stroke="#444" stroke-width="0.80"/>
<line x1="53.70" y1="610.50" x2="57.30" y2="610.50" stroke="#444" stroke-width="0.80"/>
<line x1="66.50" y1="632.50" x2="66.50" y2="639.50" stroke="#444" stroke-width="0.80"/>
<line x1="64.70" y1="632.50" x2="68.30" y2="632.50" stroke="#444" stroke-width="0.80"/>
<line x1="64.70" y1="639.50" x2="68.30" y2="639.50" stroke="#444" stroke-width="0.80"/>
<line x1="82.50" y1="644.50" x2="82.50" y2="648.50" stroke="#444" stroke-width="0.80"/>
<line x1="80.70" y1="644.50" x2="84.30" y2="644.50" stroke="#444" stroke-width="0.80"/>
<line x1="80.70" y1="648.50" x2="84.30" y2="648.50" stroke="#444" stroke-width="0.80"/>
<line x1="98.50" y1="661.50" x2="98.50" y2="665.50" stroke="#444" stroke-width="0.80"/>
<line x1="96.70" y1="661.50" x2="100.30" y2="661.50" stroke="#444" stroke-width="0.80"/>
<line x1="96.70" y1="665.50" x2="100.30" y2="665.50" stroke="#444" stroke-width="0.80"/>
<line x1="114.50" y1="679.50" x2="114.50" y2="682.50" stroke="#444" stroke-width="0.80"/>
<line x1="112.70" y1="679.50" x2="116.30" y2="679.50" stroke="#444" stroke-width="0.80"/>
<line x1="112.70" y1="682.50" x2="116.30" y2="682.50" stroke="#444" stroke-width="0.80"/>
<line x1="130.50" y1="677.50" x2="130.50" y2="686.50" stroke="#444" stroke-width="0.80"/>
<line x1="128.70" y1="677.50" x2="132.30" y2="677.50" stroke="#444" stroke-width="0.80"/>
<line x1="128.70" y1="686.50" x2="132.30" y2="686.50" stroke="#444" stroke-width="0.80"/>
<line x1="151.50" y1="684.50" x2="151.50" y2="688.50" stroke="#444" stroke-width="0.80"/>
<line x1="149.70" y1="684.50" x2="153.30" y2="684.50" stroke="#444" stroke-width="0.80"/>
<line x1="149.70" y1="688.50" x2="153.30" y2="688.50" stroke="#444" stroke-width="0.80"/>
<line x1="167.50" y1="685.50" x2="167.50" y2="687.50" stroke="#444" stroke-width="0.80"/>
<line x1="165.70" y1="685.50" x2="169.30" y2="685.50" stroke="#444" stroke-width="0.80"/>
<line x1="165.70" y1="687.50" x2="169.30" y2="687.50" stroke="#444" stroke-width="0.80"/>
<line x1="188.50" y1="688.50" x2="188.50" y2="689.50" stroke="#444" stroke-width="0.80"/>
<line x1="186.70" y1="688.50" x2="190.30" y2="688.50" stroke="#444" stroke-width="0.80"/>
<line x1="186.70" y1="689.50" x2="190.30" y2="689.50" stroke="#444" stroke-width="0.80"/>
<line x1="209.50" y1="689.50" x2="209.50" y2="690.50" stroke="#444" stroke-width="0.80"/>
<line x1="207.70" y1="689.50" x2="211.30" y2="689.50" stroke="#444" stroke-width="0.80"/>
<line x1="207.70" y1="690.50" x2="211.30" y2="690.50" stroke="#444" stroke-width="0.80"/>
<line x1="230.50" y1="689.50" x2="230.50" y2="690.50" stroke="#444" stroke-width="0.80"/>
<line x1="228.70" y1="689.50" x2="232.30" y2="689.50" stroke="#444" stroke-width="0.80"/>
<line x1="228.70" y1="690.50" x2="232.30" y2="690.50" stroke="#444" stroke-width="0.80"/>
<line x1="50.60" y1="592.70" x2="50.60" y2="691.30" stroke="#000" stroke-width="1.30"/>
<line x1="50.00" y1="690.70" x2="236.60" y2="690.70" stroke="#000" stroke-width="1.30"/>
<line x1="47.20" y1="690.70" x2="50.60" y2="690.70" stroke="#000" stroke-width="1.30"/>
<line x1="47.20" y1="672.96" x2="50.60" y2="672.96" stroke="#000" stroke-width="1.30"/>
<line x1="47.20" y1="655.22" x2="50.60" y2="655.22" stroke="#000" stroke-width="1.30"/>
<line x1="47.20" y1="637.48" x2="50.60" y2="637.48" stroke="#000" stroke-width="1.30"/>
<line x1="47.20" y1="619.74" x2="50.60" y2="619.74" stroke="#000" stroke-width="1.30"/>
<line x1="47.20" y1="602.00" x2="50.60" y2="602.00" stroke="#000" stroke-width="1.30"/>
<line x1="50.60" y1="690.70" x2="50.60" y2="694.10" stroke="#000" stroke-width="1.30"/>
<line x1="77.09" y1="690.70" x2="77.09" y2="694.10" stroke="#000" stroke-width="1.30"/>
<line x1="103.57" y1="690.70" x2="103.57" y2="694.10" stroke="#000" stroke-width="1.30"/>
<line x1="130.06" y1="690.70" x2="130.06" y2="694.10" stroke="#000" stroke-width="1.30"/>
<line x1="156.54" y1="690.70" x2="156.54" y2="694.10" stroke="#000" stroke-width="1.30"/>
<line x1="183.03" y1="690.70" x2="183.03" y2="694.10" stroke="#000" stroke-width="1.30"/>
<line x1="209.51" y1="690.70" x2="209.51" y2="694.10" stroke="#000" stroke-width="1.30"/>
<line x1="236.00" y1="690.70" x2="236.00" y2="694.10" stroke="#000" stroke-width="1.30"/>
<polyline points="50.60,602.00 55.90,608.65 66.49,636.15 82.38,646.35 98.27,663.65 114.17,680.94 130.06,681.83 151.25,686.27 167.14,686.71 188.33,688.93 209.51,689.81 230.70,689.81" fill="none" stroke="#111" stroke-width="0.9"/>
<polyline points="50.60,602.00 55.90,608.21 66.49,619.74 82.38,621.51 98.27,632.16 114.17,653.00 130.06,652.12 151.25,660.10 167.14,662.32 188.33,668.53 209.51,674.73 230.70,680.06" fill="none" stroke="#111" stroke-width="0.9"/>
<rect x="48.30" y="599.80" width="4.6" height="4.4" fill="#000"/>
<rect x="53.60" y="606.45" width="4.6" height="4.4" fill="#000"/>
<rect x="64.19" y="633.95" width="4.6" height="4.4" fill="#000"/>
<rect x="80.08" y="644.15" width="4.6" height="4.4" fill="#000"/>
<rect x="95.97" y="661.45" width="4.6" height="4.4" fill="#000"/>
<rect x="111.87" y="678.74" width="4.6" height="4.4" fill="#000"/>
<rect x="127.76" y="679.63" width="4.6" height="4.4" fill="#000"/>
<rect x="148.95" y="684.07" width="4.6" height="4.4" fill="#000"/>
<rect x="164.84" y="684.51" width="4.6" height="4.4" fill="#000"/>
<rect x="186.03" y="686.73" width="4.6" height="4.4" fill="#000"/>
<rect x="207.21" y="687.61" width="4.6" height="4.4" fill="#000"/>
<rect x="228.40" y="687.61" width="4.6" height="4.4" fill="#000"/>
<ellipse cx="50.60" cy="602.00" rx="1.85" ry="1.75" fill="#fff" stroke="#000" stroke-width="1.0"/>
<ellipse cx="55.90" cy="608.21" rx="1.85" ry="1.75" fill="#fff" stroke="#000" stroke-width="1.0"/>
<ellipse cx="66.49" cy="619.74" rx="1.85" ry="1.75" fill="#fff" stroke="#000" stroke-width="1.0"/>
<ellipse cx="82.38" cy="621.51" rx="1.85" ry="1.75" fill="#fff" stroke="#000" stroke-width="1.0"/>
<ellipse cx="98.27" cy="632.16" rx="1.85" ry="1.75" fill="#fff" stroke="#000" stroke-width="1.0"/>
<ellipse cx="114.17" cy="653.00" rx="1.85" ry="1.75" fill="#fff" stroke="#000" stroke-width="1.0"/>
<ellipse cx="130.06" cy="652.12" rx="1.85" ry="1.75" fill="#fff" stroke="#000" stroke-width="1.0"/>
<ellipse cx="151.25" cy="660.10" rx="1.85" ry="1.75" fill="#fff" stroke="#000" stroke-width="1.0"/>
<ellipse cx="167.14" cy="662.32" rx="1.85" ry="1.75" fill="#fff" stroke="#000" stroke-width="1.0"/>
<ellipse cx="188.33" cy="668.53" rx="1.85" ry="1.75" fill="#fff" stroke="#000" stroke-width="1.0"/>
<ellipse cx="209.51" cy="674.73" rx="1.85" ry="1.75" fill="#fff" stroke="#000" stroke-width="1.0"/>
<ellipse cx="230.70" cy="680.06" rx="1.85" ry="1.75" fill="#fff" stroke="#000" stroke-width="1.0"/>
<text transform="translate(36.93 694.42) scale(0.9800 1)" font-size="10.80" font-weight="normal" fill="#000" stroke="#000" stroke-width="0.30">0</text>
<text transform="translate(31.04 676.68) scale(0.9800 1)" font-size="10.80" font-weight="normal" fill="#000" stroke="#000" stroke-width="0.30">20</text>
<text transform="translate(31.04 658.94) scale(0.9800 1)" font-size="10.80" font-weight="normal" fill="#000" stroke="#000" stroke-width="0.30">40</text>
<text transform="translate(31.04 641.20) scale(0.9800 1)" font-size="10.80" font-weight="normal" fill="#000" stroke="#000" stroke-width="0.30">60</text>
<text transform="translate(31.04 623.46) scale(0.9800 1)" font-size="10.80" font-weight="normal" fill="#000" stroke="#000" stroke-width="0.30">80</text>
<g transform="translate(25.15 605.72) scale(0.9800 1)" font-size="10.80" font-weight="normal" fill="#000" stroke="#000" stroke-width="0.30">
<path vector-effect="non-scaling-stroke" transform="translate(0.000 0) scale(0.005273 -0.005273)" d="M763 0L583 0L583 1147C540 1106 483 1065 413 1024C343 983 280 952 223 931L223 1105C323 1152 410 1210 485 1277C560 1344 613 1407 644 1466L763 1466Z"/>
<text x="6.006">00</text>
</g>
<text transform="translate(48.36 709.50) scale(0.9800 1)" font-size="10.80" font-weight="normal" fill="#000" stroke="#000" stroke-width="0.30">0</text>
<text transform="translate(74.85 709.50) scale(0.9800 1)" font-size="10.80" font-weight="normal" fill="#000" stroke="#000" stroke-width="0.30">5</text>
<g transform="translate(98.19 709.50) scale(0.9800 1)" font-size="10.80" font-weight="normal" fill="#000" stroke="#000" stroke-width="0.30">
<path vector-effect="non-scaling-stroke" transform="translate(0.000 0) scale(0.005273 -0.005273)" d="M763 0L583 0L583 1147C540 1106 483 1065 413 1024C343 983 280 952 223 931L223 1105C323 1152 410 1210 485 1277C560 1344 613 1407 644 1466L763 1466Z"/>
<text x="6.006">0</text>
</g>
<g transform="translate(124.69 709.50) scale(0.9800 1)" font-size="10.80" font-weight="normal" fill="#000" stroke="#000" stroke-width="0.30">
<path vector-effect="non-scaling-stroke" transform="translate(0.000 0) scale(0.005273 -0.005273)" d="M763 0L583 0L583 1147C540 1106 483 1065 413 1024C343 983 280 952 223 931L223 1105C323 1152 410 1210 485 1277C560 1344 613 1407 644 1466L763 1466Z"/>
<text x="6.006">5</text>
</g>
<text transform="translate(151.30 709.50) scale(0.9800 1)" font-size="10.80" font-weight="normal" fill="#000" stroke="#000" stroke-width="0.30">20</text>
<text transform="translate(177.80 709.50) scale(0.9800 1)" font-size="10.80" font-weight="normal" fill="#000" stroke="#000" stroke-width="0.30">25</text>
<text transform="translate(204.33 709.50) scale(0.9800 1)" font-size="10.80" font-weight="normal" fill="#000" stroke="#000" stroke-width="0.30">30</text>
<text transform="translate(230.83 709.50) scale(0.9800 1)" font-size="10.80" font-weight="normal" fill="#000" stroke="#000" stroke-width="0.30">35</text>
<text transform="translate(108.49 571.90) scale(1.0169 1)" font-size="10.76" font-weight="bold" fill="#000" stroke="#000" stroke-width="0.15">WT HOST</text>
<text transform="translate(12.90 664.98) rotate(-90) scale(0.9044 1)" font-size="12.50" font-weight="bold" stroke="#000" stroke-width="0.15">% Survival</text>
<text transform="translate(123.37 725.20) scale(1.0396 1)" font-size="10.76" font-weight="bold" fill="#000" stroke="#000" stroke-width="0.15">Time (d)</text>
<line x1="145.10" y1="592.00" x2="157.80" y2="592.00" stroke="#111" stroke-width="0.90"/>
<rect x="149.25" y="589.80" width="4.4" height="4.4" fill="#000"/>
<line x1="145.10" y1="605.30" x2="157.80" y2="605.30" stroke="#111" stroke-width="0.90"/>
<ellipse cx="151.45" cy="605.30" rx="2.0" ry="1.8" fill="#fff" stroke="#000" stroke-width="0.9"/>
<text transform="translate(160.38 594.90) scale(1.0305 1)" font-size="10.90" font-weight="normal" fill="#000" stroke="#000" stroke-width="0.30">PIGA</text>
<text transform="translate(160.85 608.40) scale(1.0057 1)" font-size="10.73" font-weight="normal" fill="#000" stroke="#000" stroke-width="0.30">CD55</text>
<line x1="187.30" y1="584.90" x2="190.30" y2="584.90" stroke="#000" stroke-width="1.30"/>
<line x1="190.10" y1="598.30" x2="193.92" y2="598.30" stroke="#000" stroke-width="1.30"/>
<line x1="196.67" y1="595.55" x2="194.98" y2="601.05" stroke="#000" stroke-width="1.04"/>
<line x1="196.88" y1="598.30" x2="200.70" y2="598.30" stroke="#000" stroke-width="1.30"/>
<text transform="translate(204.67 593.40) scale(1.1528 1)" font-size="9.59" font-weight="normal" fill="#000" stroke="#000" stroke-width="0.30">n=4</text>
<text transform="translate(204.67 608.80) scale(1.1528 1)" font-size="9.59" font-weight="normal" fill="#000" stroke="#000" stroke-width="0.30">n=4</text>
<line x1="329.50" y1="607.50" x2="329.50" y2="614.50" stroke="#444" stroke-width="0.80"/>
<line x1="327.70" y1="607.50" x2="331.30" y2="607.50" stroke="#444" stroke-width="0.80"/>
<line x1="327.70" y1="614.50" x2="331.30" y2="614.50" stroke="#444" stroke-width="0.80"/>
<line x1="339.50" y1="609.50" x2="339.50" y2="624.50" stroke="#444" stroke-width="0.80"/>
<line x1="337.70" y1="609.50" x2="341.30" y2="609.50" stroke="#444" stroke-width="0.80"/>
<line x1="337.70" y1="624.50" x2="341.30" y2="624.50" stroke="#444" stroke-width="0.80"/>
<line x1="355.50" y1="614.50" x2="355.50" y2="634.50" stroke="#444" stroke-width="0.80"/>
<line x1="353.70" y1="614.50" x2="357.30" y2="614.50" stroke="#444" stroke-width="0.80"/>
<line x1="353.70" y1="634.50" x2="357.30" y2="634.50" stroke="#444" stroke-width="0.80"/>
<line x1="371.50" y1="626.50" x2="371.50" y2="640.50" stroke="#444" stroke-width="0.80"/>
<line x1="369.70" y1="626.50" x2="373.30" y2="626.50" stroke="#444" stroke-width="0.80"/>
<line x1="369.70" y1="640.50" x2="373.30" y2="640.50" stroke="#444" stroke-width="0.80"/>
<line x1="392.50" y1="642.50" x2="392.50" y2="654.50" stroke="#444" stroke-width="0.80"/>
<line x1="390.70" y1="642.50" x2="394.30" y2="642.50" stroke="#444" stroke-width="0.80"/>
<line x1="390.70" y1="654.50" x2="394.30" y2="654.50" stroke="#444" stroke-width="0.80"/>
<line x1="408.50" y1="649.50" x2="408.50" y2="660.50" stroke="#444" stroke-width="0.80"/>
<line x1="406.70" y1="649.50" x2="410.30" y2="649.50" stroke="#444" stroke-width="0.80"/>
<line x1="406.70" y1="660.50" x2="410.30" y2="660.50" stroke="#444" stroke-width="0.80"/>
<line x1="424.50" y1="655.50" x2="424.50" y2="661.50" stroke="#444" stroke-width="0.80"/>
<line x1="422.70" y1="655.50" x2="426.30" y2="655.50" stroke="#444" stroke-width="0.80"/>
<line x1="422.70" y1="661.50" x2="426.30" y2="661.50" stroke="#444" stroke-width="0.80"/>
<line x1="439.50" y1="666.50" x2="439.50" y2="671.50" stroke="#444" stroke-width="0.80"/>
<line x1="437.70" y1="666.50" x2="441.30" y2="666.50" stroke="#444" stroke-width="0.80"/>
<line x1="437.70" y1="671.50" x2="441.30" y2="671.50" stroke="#444" stroke-width="0.80"/>
<line x1="466.50" y1="677.50" x2="466.50" y2="682.50" stroke="#444" stroke-width="0.80"/>
<line x1="464.70" y1="677.50" x2="468.30" y2="677.50" stroke="#444" stroke-width="0.80"/>
<line x1="464.70" y1="682.50" x2="468.30" y2="682.50" stroke="#444" stroke-width="0.80"/>
<line x1="487.50" y1="682.50" x2="487.50" y2="686.50" stroke="#444" stroke-width="0.80"/>
<line x1="485.70" y1="682.50" x2="489.30" y2="682.50" stroke="#444" stroke-width="0.80"/>
<line x1="485.70" y1="686.50" x2="489.30" y2="686.50" stroke="#444" stroke-width="0.80"/>
<line x1="508.50" y1="687.50" x2="508.50" y2="689.50" stroke="#444" stroke-width="0.80"/>
<line x1="506.70" y1="687.50" x2="510.30" y2="687.50" stroke="#444" stroke-width="0.80"/>
<line x1="506.70" y1="689.50" x2="510.30" y2="689.50" stroke="#444" stroke-width="0.80"/>
<line x1="329.50" y1="606.50" x2="329.50" y2="630.50" stroke="#444" stroke-width="0.80"/>
<line x1="327.70" y1="606.50" x2="331.30" y2="606.50" stroke="#444" stroke-width="0.80"/>
<line x1="327.70" y1="630.50" x2="331.30" y2="630.50" stroke="#444" stroke-width="0.80"/>
<line x1="339.50" y1="615.50" x2="339.50" y2="659.50" stroke="#444" stroke-width="0.80"/>
<line x1="337.70" y1="615.50" x2="341.30" y2="615.50" stroke="#444" stroke-width="0.80"/>
<line x1="337.70" y1="659.50" x2="341.30" y2="659.50" stroke="#444" stroke-width="0.80"/>
<line x1="355.50" y1="644.50" x2="355.50" y2="653.50" stroke="#444" stroke-width="0.80"/>
<line x1="353.70" y1="644.50" x2="357.30" y2="644.50" stroke="#444" stroke-width="0.80"/>
<line x1="353.70" y1="653.50" x2="357.30" y2="653.50" stroke="#444" stroke-width="0.80"/>
<line x1="371.50" y1="662.50" x2="371.50" y2="678.50" stroke="#444" stroke-width="0.80"/>
<line x1="369.70" y1="662.50" x2="373.30" y2="662.50" stroke="#444" stroke-width="0.80"/>
<line x1="369.70" y1="678.50" x2="373.30" y2="678.50" stroke="#444" stroke-width="0.80"/>
<line x1="392.50" y1="680.50" x2="392.50" y2="685.50" stroke="#444" stroke-width="0.80"/>
<line x1="390.70" y1="680.50" x2="394.30" y2="680.50" stroke="#444" stroke-width="0.80"/>
<line x1="390.70" y1="685.50" x2="394.30" y2="685.50" stroke="#444" stroke-width="0.80"/>
<line x1="408.50" y1="685.50" x2="408.50" y2="687.50" stroke="#444" stroke-width="0.80"/>
<line x1="406.70" y1="685.50" x2="410.30" y2="685.50" stroke="#444" stroke-width="0.80"/>
<line x1="406.70" y1="687.50" x2="410.30" y2="687.50" stroke="#444" stroke-width="0.80"/>
<line x1="424.50" y1="687.50" x2="424.50" y2="689.50" stroke="#444" stroke-width="0.80"/>
<line x1="422.70" y1="687.50" x2="426.30" y2="687.50" stroke="#444" stroke-width="0.80"/>
<line x1="422.70" y1="689.50" x2="426.30" y2="689.50" stroke="#444" stroke-width="0.80"/>
<line x1="439.50" y1="689.50" x2="439.50" y2="690.50" stroke="#444" stroke-width="0.80"/>
<line x1="437.70" y1="689.50" x2="441.30" y2="689.50" stroke="#444" stroke-width="0.80"/>
<line x1="437.70" y1="690.50" x2="441.30" y2="690.50" stroke="#444" stroke-width="0.80"/>
<line x1="323.80" y1="591.90" x2="323.80" y2="691.10" stroke="#000" stroke-width="1.30"/>
<line x1="323.20" y1="690.50" x2="509.10" y2="690.50" stroke="#000" stroke-width="1.30"/>
<line x1="320.40" y1="690.50" x2="323.80" y2="690.50" stroke="#000" stroke-width="1.30"/>
<line x1="320.40" y1="672.72" x2="323.80" y2="672.72" stroke="#000" stroke-width="1.30"/>
<line x1="320.40" y1="654.94" x2="323.80" y2="654.94" stroke="#000" stroke-width="1.30"/>
<line x1="320.40" y1="637.16" x2="323.80" y2="637.16" stroke="#000" stroke-width="1.30"/>
<line x1="320.40" y1="619.38" x2="323.80" y2="619.38" stroke="#000" stroke-width="1.30"/>
<line x1="320.40" y1="601.60" x2="323.80" y2="601.60" stroke="#000" stroke-width="1.30"/>
<line x1="323.80" y1="690.50" x2="323.80" y2="693.90" stroke="#000" stroke-width="1.30"/>
<line x1="350.19" y1="690.50" x2="350.19" y2="693.90" stroke="#000" stroke-width="1.30"/>
<line x1="376.57" y1="690.50" x2="376.57" y2="693.90" stroke="#000" stroke-width="1.30"/>
<line x1="402.96" y1="690.50" x2="402.96" y2="693.90" stroke="#000" stroke-width="1.30"/>
<line x1="429.34" y1="690.50" x2="429.34" y2="693.90" stroke="#000" stroke-width="1.30"/>
<line x1="455.73" y1="690.50" x2="455.73" y2="693.90" stroke="#000" stroke-width="1.30"/>
<line x1="482.11" y1="690.50" x2="482.11" y2="693.90" stroke="#000" stroke-width="1.30"/>
<line x1="508.50" y1="690.50" x2="508.50" y2="693.90" stroke="#000" stroke-width="1.30"/>
<polyline points="323.80,601.60 329.08,618.49 339.63,637.60 355.46,648.72 371.29,670.94 392.40,682.94 408.23,686.50 424.07,688.28 439.90,689.61 466.28,690.06 487.39,690.06" fill="none" stroke="#111" stroke-width="0.9"/>
<polyline points="323.80,601.60 329.08,611.38 339.63,617.16 355.46,624.27 371.29,633.60 392.40,648.72 408.23,654.94 424.07,658.50 439.90,669.16 466.28,680.28 487.39,684.28 508.50,688.72" fill="none" stroke="#111" stroke-width="0.9"/>
<rect x="321.50" y="599.40" width="4.6" height="4.4" fill="#000"/>
<rect x="326.78" y="616.29" width="4.6" height="4.4" fill="#000"/>
<rect x="337.33" y="635.40" width="4.6" height="4.4" fill="#000"/>
<rect x="353.16" y="646.52" width="4.6" height="4.4" fill="#000"/>
<rect x="368.99" y="668.74" width="4.6" height="4.4" fill="#000"/>
<rect x="390.10" y="680.74" width="4.6" height="4.4" fill="#000"/>
<rect x="405.93" y="684.30" width="4.6" height="4.4" fill="#000"/>
<rect x="421.77" y="686.08" width="4.6" height="4.4" fill="#000"/>
<rect x="437.60" y="687.41" width="4.6" height="4.4" fill="#000"/>
<rect x="463.98" y="687.86" width="4.6" height="4.4" fill="#000"/>
<rect x="485.09" y="687.86" width="4.6" height="4.4" fill="#000"/>
<ellipse cx="323.80" cy="601.60" rx="1.85" ry="1.75" fill="#fff" stroke="#000" stroke-width="1.0"/>
<ellipse cx="329.08" cy="611.38" rx="1.85" ry="1.75" fill="#fff" stroke="#000" stroke-width="1.0"/>
<ellipse cx="339.63" cy="617.16" rx="1.85" ry="1.75" fill="#fff" stroke="#000" stroke-width="1.0"/>
<ellipse cx="355.46" cy="624.27" rx="1.85" ry="1.75" fill="#fff" stroke="#000" stroke-width="1.0"/>
<ellipse cx="371.29" cy="633.60" rx="1.85" ry="1.75" fill="#fff" stroke="#000" stroke-width="1.0"/>
<ellipse cx="392.40" cy="648.72" rx="1.85" ry="1.75" fill="#fff" stroke="#000" stroke-width="1.0"/>
<ellipse cx="408.23" cy="654.94" rx="1.85" ry="1.75" fill="#fff" stroke="#000" stroke-width="1.0"/>
<ellipse cx="424.07" cy="658.50" rx="1.85" ry="1.75" fill="#fff" stroke="#000" stroke-width="1.0"/>
<ellipse cx="439.90" cy="669.16" rx="1.85" ry="1.75" fill="#fff" stroke="#000" stroke-width="1.0"/>
<ellipse cx="466.28" cy="680.28" rx="1.85" ry="1.75" fill="#fff" stroke="#000" stroke-width="1.0"/>
<ellipse cx="487.39" cy="684.28" rx="1.85" ry="1.75" fill="#fff" stroke="#000" stroke-width="1.0"/>
<ellipse cx="508.50" cy="688.72" rx="1.85" ry="1.75" fill="#fff" stroke="#000" stroke-width="1.0"/>
<text transform="translate(309.93 694.22) scale(0.9800 1)" font-size="10.80" font-weight="normal" fill="#000" stroke="#000" stroke-width="0.30">0</text>
<text transform="translate(304.04 676.44) scale(0.9800 1)" font-size="10.80" font-weight="normal" fill="#000" stroke="#000" stroke-width="0.30">20</text>
<text transform="translate(304.04 658.66) scale(0.9800 1)" font-size="10.80" font-weight="normal" fill="#000" stroke="#000" stroke-width="0.30">40</text>
<text transform="translate(304.04 640.88) scale(0.9800 1)" font-size="10.80" font-weight="normal" fill="#000" stroke="#000" stroke-width="0.30">60</text>
<text transform="translate(304.04 623.10) scale(0.9800 1)" font-size="10.80" font-weight="normal" fill="#000" stroke="#000" stroke-width="0.30">80</text>
<g transform="translate(298.15 605.32) scale(0.9800 1)" font-size="10.80" font-weight="normal" fill="#000" stroke="#000" stroke-width="0.30">
<path vector-effect="non-scaling-stroke" transform="translate(0.000 0) scale(0.005273 -0.005273)" d="M763 0L583 0L583 1147C540 1106 483 1065 413 1024C343 983 280 952 223 931L223 1105C323 1152 410 1210 485 1277C560 1344 613 1407 644 1466L763 1466Z"/>
<text x="6.006">00</text>
</g>
<text transform="translate(321.56 709.70) scale(0.9800 1)" font-size="10.80" font-weight="normal" fill="#000" stroke="#000" stroke-width="0.30">0</text>
<text transform="translate(347.95 709.70) scale(0.9800 1)" font-size="10.80" font-weight="normal" fill="#000" stroke="#000" stroke-width="0.30">5</text>
<g transform="translate(371.19 709.70) scale(0.9800 1)" font-size="10.80" font-weight="normal" fill="#000" stroke="#000" stroke-width="0.30">
<path vector-effect="non-scaling-stroke" transform="translate(0.000 0) scale(0.005273 -0.005273)" d="M763 0L583 0L583 1147C540 1106 483 1065 413 1024C343 983 280 952 223 931L223 1105C323 1152 410 1210 485 1277C560 1344 613 1407 644 1466L763 1466Z"/>
<text x="6.006">0</text>
</g>
<g transform="translate(397.59 709.70) scale(0.9800 1)" font-size="10.80" font-weight="normal" fill="#000" stroke="#000" stroke-width="0.30">
<path vector-effect="non-scaling-stroke" transform="translate(0.000 0) scale(0.005273 -0.005273)" d="M763 0L583 0L583 1147C540 1106 483 1065 413 1024C343 983 280 952 223 931L223 1105C323 1152 410 1210 485 1277C560 1344 613 1407 644 1466L763 1466Z"/>
<text x="6.006">5</text>
</g>
<text transform="translate(424.10 709.70) scale(0.9800 1)" font-size="10.80" font-weight="normal" fill="#000" stroke="#000" stroke-width="0.30">20</text>
<text transform="translate(450.50 709.70) scale(0.9800 1)" font-size="10.80" font-weight="normal" fill="#000" stroke="#000" stroke-width="0.30">25</text>
<text transform="translate(476.93 709.70) scale(0.9800 1)" font-size="10.80" font-weight="normal" fill="#000" stroke="#000" stroke-width="0.30">30</text>
<text transform="translate(503.33 709.70) scale(0.9800 1)" font-size="10.80" font-weight="normal" fill="#000" stroke="#000" stroke-width="0.30">35</text>
<text transform="translate(383.49 571.90) scale(1.0169 1)" font-size="10.76" font-weight="bold" fill="#000" stroke="#000" stroke-width="0.15">WT HOST</text>
<text transform="translate(293.20 665.08) rotate(-90) scale(0.9653 1)" font-size="11.63" font-weight="bold" stroke="#000" stroke-width="0.15">% Survival</text>
<text transform="translate(395.78 726.30) scale(0.9817 1)" font-size="11.34" font-weight="bold" fill="#000" stroke="#000" stroke-width="0.15">Time (d)</text>
<line x1="418.10" y1="595.60" x2="430.80" y2="595.60" stroke="#111" stroke-width="0.90"/>
<rect x="422.25" y="593.40" width="4.4" height="4.4" fill="#000"/>
<line x1="418.10" y1="609.50" x2="430.80" y2="609.50" stroke="#111" stroke-width="0.90"/>
<ellipse cx="424.45" cy="609.50" rx="2.0" ry="1.8" fill="#fff" stroke="#000" stroke-width="0.9"/>
<text transform="translate(433.19 598.80) scale(1.0283 1)" font-size="10.76" font-weight="normal" fill="#000" stroke="#000" stroke-width="0.30">PIGA</text>
<text transform="translate(432.93 612.70) scale(1.0519 1)" font-size="10.61" font-weight="normal" fill="#000" stroke="#000" stroke-width="0.30">CD55</text>
<text transform="translate(434.54 623.80) scale(1.0465 1)" font-size="10.61" font-weight="normal" fill="#000" stroke="#000" stroke-width="0.30">CD59</text>
<line x1="462.40" y1="590.80" x2="465.60" y2="590.80" stroke="#000" stroke-width="1.30"/>
<line x1="467.30" y1="605.00" x2="470.90" y2="605.00" stroke="#000" stroke-width="1.20"/>
<line x1="473.50" y1="601.75" x2="471.90" y2="608.25" stroke="#000" stroke-width="0.96"/>
<line x1="473.70" y1="605.00" x2="477.30" y2="605.00" stroke="#000" stroke-width="1.20"/>
<line x1="465.50" y1="617.30" x2="469.10" y2="617.30" stroke="#000" stroke-width="1.20"/>
<line x1="471.70" y1="614.20" x2="470.10" y2="620.40" stroke="#000" stroke-width="0.96"/>
<line x1="471.90" y1="617.30" x2="475.50" y2="617.30" stroke="#000" stroke-width="1.20"/>
<text transform="translate(484.38 599.20) scale(1.0328 1)" font-size="10.47" font-weight="normal" fill="#000" stroke="#000" stroke-width="0.30">n=4</text>
<text transform="translate(484.38 623.80) scale(1.0187 1)" font-size="10.61" font-weight="normal" fill="#000" stroke="#000" stroke-width="0.30">n=4</text>
<rect x="327.20" y="490.47" width="11.60" height="21.73" fill="#fff" stroke="#111" stroke-width="0.7"/>
<line x1="333.00" y1="487.08" x2="333.00" y2="493.85" stroke="#444" stroke-width="0.80"/>
<line x1="331.20" y1="487.08" x2="334.80" y2="487.08" stroke="#444" stroke-width="0.80"/>
<line x1="331.20" y1="493.85" x2="334.80" y2="493.85" stroke="#444" stroke-width="0.80"/>
<line x1="344.60" y1="445.19" x2="344.60" y2="458.18" stroke="#444" stroke-width="0.80"/>
<line x1="342.80" y1="445.19" x2="346.40" y2="445.19" stroke="#444" stroke-width="0.80"/>
<rect x="338.80" y="458.18" width="11.60" height="54.02" fill="#000"/>
<rect x="366.50" y="492.44" width="11.60" height="19.76" fill="#fff" stroke="#111" stroke-width="0.7"/>
<line x1="372.30" y1="480.59" x2="372.30" y2="504.30" stroke="#444" stroke-width="0.80"/>
<line x1="370.50" y1="480.59" x2="374.10" y2="480.59" stroke="#444" stroke-width="0.80"/>
<line x1="370.50" y1="504.30" x2="374.10" y2="504.30" stroke="#444" stroke-width="0.80"/>
<line x1="383.90" y1="446.72" x2="383.90" y2="464.78" stroke="#444" stroke-width="0.80"/>
<line x1="382.10" y1="446.72" x2="385.70" y2="446.72" stroke="#444" stroke-width="0.80"/>
<rect x="378.10" y="464.78" width="11.60" height="47.42" fill="#000"/>
<rect x="406.30" y="493.57" width="11.60" height="18.63" fill="#fff" stroke="#111" stroke-width="0.7"/>
<line x1="412.10" y1="481.72" x2="412.10" y2="505.43" stroke="#444" stroke-width="0.80"/>
<line x1="410.30" y1="481.72" x2="413.90" y2="481.72" stroke="#444" stroke-width="0.80"/>
<line x1="410.30" y1="505.43" x2="413.90" y2="505.43" stroke="#444" stroke-width="0.80"/>
<line x1="423.70" y1="419.06" x2="423.70" y2="446.15" stroke="#444" stroke-width="0.80"/>
<line x1="421.90" y1="419.06" x2="425.50" y2="419.06" stroke="#444" stroke-width="0.80"/>
<rect x="417.90" y="446.15" width="11.60" height="66.05" fill="#000"/>
<rect x="446.50" y="498.09" width="11.60" height="14.11" fill="#fff" stroke="#111" stroke-width="0.7"/>
<line x1="452.30" y1="493.01" x2="452.30" y2="503.17" stroke="#444" stroke-width="0.80"/>
<line x1="450.50" y1="493.01" x2="454.10" y2="493.01" stroke="#444" stroke-width="0.80"/>
<line x1="450.50" y1="503.17" x2="454.10" y2="503.17" stroke="#444" stroke-width="0.80"/>
<line x1="463.90" y1="459.98" x2="463.90" y2="475.79" stroke="#444" stroke-width="0.80"/>
<line x1="462.10" y1="459.98" x2="465.70" y2="459.98" stroke="#444" stroke-width="0.80"/>
<rect x="458.10" y="475.79" width="11.60" height="36.41" fill="#000"/>
<rect x="486.60" y="493.57" width="11.60" height="18.63" fill="#fff" stroke="#111" stroke-width="0.7"/>
<line x1="492.40" y1="478.33" x2="492.40" y2="508.81" stroke="#444" stroke-width="0.80"/>
<line x1="490.60" y1="478.33" x2="494.20" y2="478.33" stroke="#444" stroke-width="0.80"/>
<line x1="490.60" y1="508.81" x2="494.20" y2="508.81" stroke="#444" stroke-width="0.80"/>
<line x1="504.00" y1="450.67" x2="504.00" y2="471.56" stroke="#444" stroke-width="0.80"/>
<line x1="502.20" y1="450.67" x2="505.80" y2="450.67" stroke="#444" stroke-width="0.80"/>
<rect x="498.20" y="471.56" width="11.60" height="40.64" fill="#000"/>
<line x1="318.60" y1="399.30" x2="318.60" y2="512.80" stroke="#000" stroke-width="1.30"/>
<line x1="315.10" y1="512.20" x2="518.60" y2="512.20" stroke="#000" stroke-width="1.30"/>
<line x1="314.80" y1="512.20" x2="318.60" y2="512.20" stroke="#000" stroke-width="1.30"/>
<text transform="translate(305.71 515.98) scale(1.0000 1)" font-size="11.00" font-weight="normal" fill="#000" stroke="#000" stroke-width="0.30">0</text>
<line x1="314.80" y1="483.98" x2="318.60" y2="483.98" stroke="#000" stroke-width="1.30"/>
<text transform="translate(305.74 487.76) scale(1.0000 1)" font-size="11.00" font-weight="normal" fill="#000" stroke="#000" stroke-width="0.30">5</text>
<line x1="314.80" y1="455.75" x2="318.60" y2="455.75" stroke="#000" stroke-width="1.30"/>
<g transform="translate(299.59 459.53) scale(1.0000 1)" font-size="11.00" font-weight="normal" fill="#000" stroke="#000" stroke-width="0.30">
<path vector-effect="non-scaling-stroke" transform="translate(0.000 0) scale(0.005371 -0.005371)" d="M763 0L583 0L583 1147C540 1106 483 1065 413 1024C343 983 280 952 223 931L223 1105C323 1152 410 1210 485 1277C560 1344 613 1407 644 1466L763 1466Z"/>
<text x="6.118">0</text>
</g>
<line x1="314.80" y1="427.53" x2="318.60" y2="427.53" stroke="#000" stroke-width="1.30"/>
<g transform="translate(299.63 431.31) scale(1.0000 1)" font-size="11.00" font-weight="normal" fill="#000" stroke="#000" stroke-width="0.30">
<path vector-effect="non-scaling-stroke" transform="translate(0.000 0) scale(0.005371 -0.005371)" d="M763 0L583 0L583 1147C540 1106 483 1065 413 1024C343 983 280 952 223 931L223 1105C323 1152 410 1210 485 1277C560 1344 613 1407 644 1466L763 1466Z"/>
<text x="6.118">5</text>
</g>
<line x1="314.80" y1="399.30" x2="318.60" y2="399.30" stroke="#000" stroke-width="1.30"/>
<text transform="translate(299.59 403.08) scale(1.0000 1)" font-size="11.00" font-weight="normal" fill="#000" stroke="#000" stroke-width="0.30">20</text>
<text transform="translate(285.80 466.38) rotate(-90) scale(0.8555 1)" font-size="12.94" font-weight="bold" stroke="#000" stroke-width="0.15">% Retics</text>
<rect x="436.4" y="399.7" width="6.0" height="5.8" fill="#fff" stroke="#000" stroke-width="0.9"/>
<rect x="436.5" y="414.4" width="5.8" height="5.8" fill="#000"/>
<text transform="translate(444.88 405.80) scale(1.1041 1)" font-size="10.17" font-weight="normal" fill="#000" stroke="#000" stroke-width="0.30">PIGA</text>
<text transform="translate(444.88 419.60) scale(1.1201 1)" font-size="10.03" font-weight="normal" fill="#000" stroke="#000" stroke-width="0.30">PIGA</text>
<text transform="translate(470.52 401.28) scale(1.1413 1)" font-size="12.26" font-weight="normal" fill="#000" stroke="#000" stroke-width="0.30">+</text>
<line x1="474.00" y1="411.30" x2="477.20" y2="411.30" stroke="#000" stroke-width="1.30"/>
<text transform="translate(331.19 526.30) scale(0.9798 1)" font-size="11.05" font-weight="bold" fill="#000" stroke="#000" stroke-width="0.15">WT</text>
<text transform="translate(370.22 526.30) scale(1.0513 1)" font-size="11.05" font-weight="bold" fill="#000" stroke="#000" stroke-width="0.15">Bf</text>
<text transform="translate(409.24 526.30) scale(1.0099 1)" font-size="11.05" font-weight="bold" fill="#000" stroke="#000" stroke-width="0.15">C3</text>
<text transform="translate(450.75 526.30) scale(0.9847 1)" font-size="11.05" font-weight="bold" fill="#000" stroke="#000" stroke-width="0.15">C4</text>
<text transform="translate(489.05 526.30) scale(0.9880 1)" font-size="11.05" font-weight="bold" fill="#000" stroke="#000" stroke-width="0.15">C5</text>
<line x1="386.00" y1="518.20" x2="388.09" y2="518.20" stroke="#000" stroke-width="1.20"/>
<line x1="389.60" y1="515.75" x2="388.67" y2="520.65" stroke="#000" stroke-width="0.96"/>
<line x1="389.71" y1="518.20" x2="391.80" y2="518.20" stroke="#000" stroke-width="1.20"/>
<line x1="426.30" y1="518.20" x2="428.46" y2="518.20" stroke="#000" stroke-width="1.20"/>
<line x1="430.02" y1="515.75" x2="429.06" y2="520.65" stroke="#000" stroke-width="0.96"/>
<line x1="430.14" y1="518.20" x2="432.30" y2="518.20" stroke="#000" stroke-width="1.20"/>
<line x1="469.00" y1="518.20" x2="471.09" y2="518.20" stroke="#000" stroke-width="1.20"/>
<line x1="472.60" y1="515.75" x2="471.67" y2="520.65" stroke="#000" stroke-width="0.96"/>
<line x1="472.71" y1="518.20" x2="474.80" y2="518.20" stroke="#000" stroke-width="1.20"/>
<line x1="506.40" y1="518.20" x2="508.52" y2="518.20" stroke="#000" stroke-width="1.20"/>
<line x1="510.06" y1="515.75" x2="509.11" y2="520.65" stroke="#000" stroke-width="0.96"/>
<line x1="510.18" y1="518.20" x2="512.30" y2="518.20" stroke="#000" stroke-width="1.20"/>
<g transform="translate(330.54 537.10) scale(1.1112 1)" font-size="9.01" font-weight="normal" fill="#000" stroke="#000" stroke-width="0.30">
<text x="0.000">n=</text>
<path vector-effect="non-scaling-stroke" transform="translate(10.274 0) scale(0.004400 -0.004400)" d="M763 0L583 0L583 1147C540 1106 483 1065 413 1024C343 983 280 952 223 931L223 1105C323 1152 410 1210 485 1277C560 1344 613 1407 644 1466L763 1466Z"/>
<text x="15.286">0</text>
</g>
<g transform="translate(370.35 537.10) scale(1.0928 1)" font-size="9.01" font-weight="normal" fill="#000" stroke="#000" stroke-width="0.30">
<text x="0.000">n=</text>
<path vector-effect="non-scaling-stroke" transform="translate(10.274 0) scale(0.004400 -0.004400)" d="M763 0L583 0L583 1147C540 1106 483 1065 413 1024C343 983 280 952 223 931L223 1105C323 1152 410 1210 485 1277C560 1344 613 1407 644 1466L763 1466Z"/>
<text x="15.286">8</text>
</g>
<g transform="translate(409.03 537.10) scale(1.1128 1)" font-size="9.01" font-weight="normal" fill="#000" stroke="#000" stroke-width="0.30">
<text x="0.000">n=</text>
<path vector-effect="non-scaling-stroke" transform="translate(10.274 0) scale(0.004400 -0.004400)" d="M763 0L583 0L583 1147C540 1106 483 1065 413 1024C343 983 280 952 223 931L223 1105C323 1152 410 1210 485 1277C560 1344 613 1407 644 1466L763 1466Z"/>
<text x="15.286">5</text>
</g>
<text transform="translate(451.91 537.10) scale(1.1601 1)" font-size="9.01" font-weight="normal" fill="#000" stroke="#000" stroke-width="0.30">n=5</text>
<text transform="translate(491.23 537.10) scale(1.1262 1)" font-size="9.01" font-weight="normal" fill="#000" stroke="#000" stroke-width="0.30">n=8</text>
</svg>
</body></html>
